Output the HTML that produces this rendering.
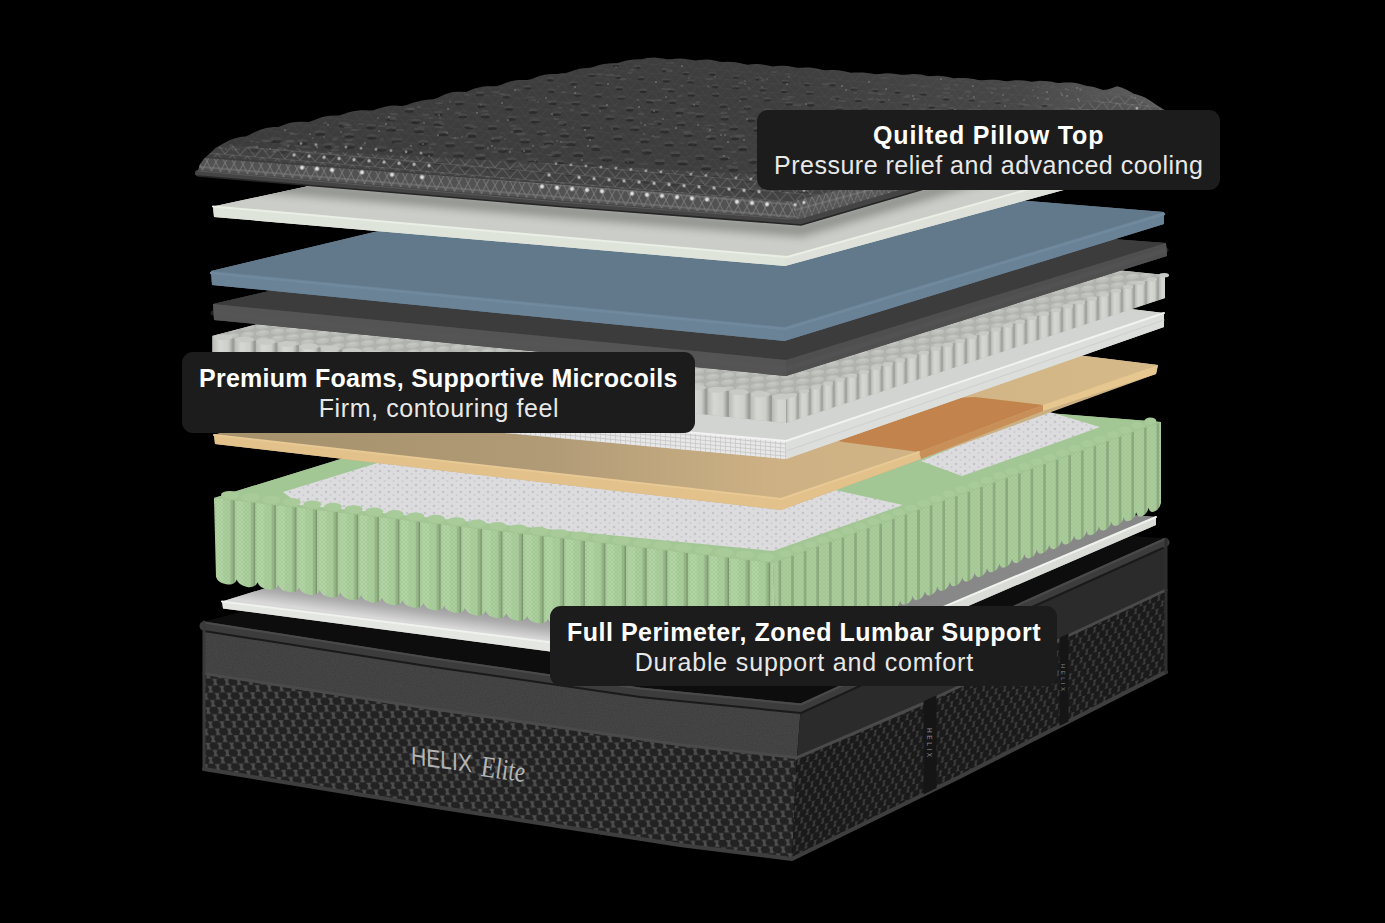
<!DOCTYPE html>
<html><head><meta charset="utf-8"><style>
html,body{margin:0;padding:0;background:#000;}
body{width:1385px;height:923px;overflow:hidden;position:relative;font-family:"Liberation Sans",sans-serif;}
svg{position:absolute;left:0;top:0;}
.lab{position:absolute;background:#1c1c1c;border-radius:11px;}
.t{position:absolute;color:#fff;font-size:25px;line-height:30px;white-space:nowrap;}
.b{font-weight:bold;}
.s{font-weight:normal;color:#e8e8e8;}
</style></head><body>
<svg width="1385" height="923" viewBox="0 0 1385 923">
<defs><pattern id="wovL" patternUnits="userSpaceOnUse" width="12" height="14" patternTransform="skewY(9) rotate(-10)"><rect width="12" height="14" fill="#222"/><path d="M0.70 0.30h5.20l-1.30 2.43v1.54l1.30 2.43h-5.20l1.30 -2.43v-1.54z" fill="#4e4e4e"/><path d="M6.70 7.30h5.20l-1.30 2.43v1.54l1.30 2.43h-5.20l1.30 -2.43v-1.54z" fill="#4e4e4e"/><path d="M-5.30 7.30h5.20l-1.30 2.43v1.54l1.30 2.43h-5.20l1.30 -2.43v-1.54z" fill="#4e4e4e"/><path d="M0.70 14.30h5.20l-1.30 2.43v1.54l1.30 2.43h-5.20l1.30 -2.43v-1.54z" fill="#4e4e4e"/></pattern><pattern id="wovR" patternUnits="userSpaceOnUse" width="9" height="13" patternTransform="skewY(-25) rotate(10)"><rect width="9" height="13" fill="#1a1a1a"/><path d="M0.70 0.50h3.60l-0.90 2.13v1.34l0.90 2.13h-3.60l0.90 -2.13v-1.34z" fill="#3c3c3c"/><path d="M5.20 7.00h3.60l-0.90 2.13v1.34l0.90 2.13h-3.60l0.90 -2.13v-1.34z" fill="#3c3c3c"/><path d="M-3.80 7.00h3.60l-0.90 2.13v1.34l0.90 2.13h-3.60l0.90 -2.13v-1.34z" fill="#3c3c3c"/><path d="M0.70 13.50h3.60l-0.90 2.13v1.34l0.90 2.13h-3.60l0.90 -2.13v-1.34z" fill="#3c3c3c"/></pattern><filter id="noise" x="0" y="0" width="100%" height="100%"><feTurbulence type="fractalNoise" baseFrequency="0.9" numOctaves="2" seed="3"/><feColorMatrix values="0 0 0 0 0.3  0 0 0 0 0.3  0 0 0 0 0.3  0 0 0 0.35 0"/><feComposite in2="SourceGraphic" operator="in"/></filter><linearGradient id="w9top" gradientUnits="userSpaceOnUse" x1="604" y1="617.6" x2="600" y2="647.6"><stop offset="0" stop-color="#888"/><stop offset="0.6" stop-color="#adadad"/><stop offset="1" stop-color="#d8d8d8"/></linearGradient><pattern id="spk" patternUnits="userSpaceOnUse" width="9" height="7">
<rect width="9" height="7" fill="#dcdcdf"/><circle cx="2" cy="2" r="1.3" fill="#c4c4c8"/><circle cx="6.5" cy="5" r="1.0" fill="#cbcbcf"/></pattern><pattern id="coilL" patternUnits="userSpaceOnUse" width="20.6" height="120" x="214" patternTransform="skewY(6)">
<rect width="20.6" height="120" fill="#abcf9c"/><rect x="2" width="7" height="120" fill="#b6d8a8" opacity="0.7"/><rect x="16.4" width="4.2" height="120" fill="#97b789"/><rect x="19.2" width="1.4" height="120" fill="#7a966d"/></pattern><pattern id="coilR" patternUnits="userSpaceOnUse" width="12.6" height="120" patternTransform="skewY(-19)">
<rect width="12.6" height="120" fill="#aacd9b"/><rect x="10" width="2.6" height="120" fill="#8cab7f"/></pattern><pattern id="xh" patternUnits="userSpaceOnUse" width="4" height="4"><path d="M0 4L4 0M0 0L4 4" stroke="#7f9b73" stroke-width="0.5" opacity="0.5"/></pattern><linearGradient id="tantop" gradientUnits="userSpaceOnUse" x1="300" y1="430" x2="1150" y2="430"><stop offset="0" stop-color="#a8936f"/><stop offset="0.3" stop-color="#b19b77"/><stop offset="0.55" stop-color="#cdb184"/><stop offset="1" stop-color="#d6b988"/></linearGradient><pattern id="gridL" patternUnits="userSpaceOnUse" width="5" height="4" patternTransform="skewY(5.5)">
<rect width="5" height="4" fill="#e8e8e8"/><path d="M0 0.5H5M0.5 0V4" stroke="#c6c6c6" stroke-width="0.8"/></pattern><pattern id="mtop" patternUnits="userSpaceOnUse" width="15" height="7" patternTransform="skewY(-6)">
<rect width="15" height="7" fill="#b0b2ad"/><ellipse cx="7.5" cy="3.5" rx="6.8" ry="3" fill="#bdbfba"/><ellipse cx="7.5" cy="2.6" rx="4" ry="1.1" fill="#c6c8c3"/></pattern><linearGradient id="cylg" x1="0" y1="0" x2="1" y2="0"><stop offset="0" stop-color="#b9bbb6"/><stop offset="0.35" stop-color="#d6d8d3"/><stop offset="0.8" stop-color="#cdcfca"/><stop offset="1" stop-color="#a9aba6"/></linearGradient><pattern id="mcL" patternUnits="userSpaceOnUse" width="21.5" height="40" x="212" patternTransform="skewY(5)">
<rect width="21.5" height="40" fill="#9a9c97"/><rect x="1" width="19" height="40" fill="url(#cylg)"/></pattern><pattern id="mcR" patternUnits="userSpaceOnUse" width="12" height="40" x="786" patternTransform="skewY(-18)">
<rect width="12" height="40" fill="#a3a5a0"/><rect x="1" width="10" height="40" fill="url(#cylg)"/></pattern><linearGradient id="dgf" gradientUnits="userSpaceOnUse" x1="0" y1="300" x2="0" y2="380"><stop offset="0" stop-color="#585858"/><stop offset="1" stop-color="#4e4e4e"/></linearGradient><filter id="blur4" x="-10%" y="-50%" width="120%" height="200%"><feGaussianBlur stdDeviation="4"/></filter><clipPath id="w2clip"><polygon points="213.0,206.5 654.0,112.0 1158.0,153.0 787.0,257.0"/></clipPath><linearGradient id="ptop" gradientUnits="userSpaceOnUse" x1="200" y1="0" x2="1166" y2="0"><stop offset="0" stop-color="#3b3b3b"/><stop offset="0.6" stop-color="#3d3d3d"/><stop offset="0.85" stop-color="#474747"/><stop offset="1" stop-color="#626262"/></linearGradient><clipPath id="ptclip"><polygon points="197.7,172.0 199.5,165.0 203.8,159.0 206.7,156.2 209.7,153.5 212.6,150.8 215.5,147.7 219.8,145.6 224.2,143.0 228.5,140.7 232.8,139.0 237.2,137.7 241.5,136.8 245.6,136.4 249.6,134.7 253.7,132.6 257.8,130.7 261.8,129.2 265.9,128.1 269.9,127.4 274.0,127.0 278.3,126.9 282.7,125.2 287.0,123.7 291.3,122.6 295.7,122.0 300.0,121.7 304.3,121.8 308.7,122.1 313.0,120.6 317.4,118.8 321.7,117.3 326.1,116.3 330.5,115.7 334.9,115.5 339.2,115.6 343.6,114.1 347.9,112.6 352.1,111.5 356.4,110.7 360.7,110.3 364.9,110.3 369.2,110.6 373.5,110.3 377.7,108.7 382.0,107.4 386.0,106.4 390.0,105.8 394.0,105.6 398.0,105.7 402.0,106.0 406.0,105.2 410.0,103.7 414.0,102.4 418.0,101.5 421.9,100.5 425.8,99.9 429.7,99.5 433.6,99.3 437.4,97.9 441.3,96.0 445.2,94.3 449.1,93.0 453.0,92.0 457.3,91.7 461.7,91.8 466.0,92.0 470.3,90.2 474.7,88.6 479.0,87.4 483.3,86.6 487.7,86.2 492.0,86.2 496.5,86.3 501.0,84.8 505.5,83.0 510.0,81.5 514.5,80.5 519.0,80.0 523.2,79.9 527.5,80.1 531.8,78.9 536.0,77.2 540.2,75.8 544.5,74.8 548.8,74.2 553.0,73.9 557.2,74.0 561.5,73.2 565.8,73.0 570.0,71.7 574.3,70.2 578.7,69.0 583.0,68.3 587.3,67.9 591.7,67.6 596.0,66.0 600.2,64.8 604.4,64.0 608.6,63.5 612.9,63.3 617.1,63.3 621.3,62.0 625.5,60.8 629.7,60.0 634.0,59.5 638.2,59.3 642.4,59.3 646.6,58.1 650.7,57.7 654.7,57.6 658.8,57.9 662.9,58.4 666.9,59.2 671.0,59.3 675.0,58.8 679.1,58.6 683.2,58.7 687.2,59.2 691.3,59.8 695.4,60.5 699.4,60.0 703.5,59.7 707.5,59.6 711.6,59.9 715.6,60.8 719.6,61.8 723.6,61.9 727.6,61.8 731.7,61.9 735.7,62.3 739.7,63.0 743.7,64.0 747.7,64.7 751.8,64.3 756.0,64.1 760.1,64.3 764.2,64.7 768.3,65.5 772.5,66.4 776.6,66.0 780.7,65.8 784.9,65.8 789.0,66.2 793.1,66.9 797.2,67.8 801.4,67.8 805.5,67.4 809.6,67.5 813.7,67.9 817.8,68.7 821.9,69.7 826.0,70.2 830.1,70.0 834.2,69.9 838.4,70.3 842.5,70.9 846.6,71.8 850.7,72.8 854.8,72.5 858.9,72.4 863.0,72.6 867.1,72.9 871.3,73.5 875.4,74.2 879.6,73.9 883.7,73.5 887.9,73.3 892.0,73.5 896.1,74.0 900.3,74.8 904.4,74.8 908.6,74.4 912.7,74.1 916.9,74.2 921.0,74.6 925.1,75.5 929.1,76.2 933.2,75.9 937.2,75.8 941.3,76.0 945.4,76.5 949.4,77.3 953.5,78.3 957.6,78.1 961.6,77.9 965.7,78.0 969.8,78.4 973.8,79.1 977.9,80.0 981.9,80.3 986.0,80.1 990.2,79.8 994.3,79.8 998.5,80.1 1002.6,80.8 1006.8,81.2 1010.9,80.7 1015.1,80.3 1019.2,80.2 1023.4,80.5 1027.5,81.1 1031.7,81.8 1035.8,81.3 1040.0,80.8 1044.0,80.9 1048.0,81.2 1052.0,81.8 1056.0,82.7 1060.0,82.9 1064.0,82.6 1068.0,82.4 1072.0,82.6 1076.0,83.1 1080.0,83.9 1084.6,85.6 1089.2,86.2 1093.8,87.1 1098.4,88.4 1103.0,90.1 1107.7,89.6 1112.3,88.1 1117.0,86.3 1121.3,87.6 1125.7,89.3 1130.0,91.4 1133.8,93.7 1137.5,94.8 1141.2,96.0 1145.0,97.6 1150.0,100.4 1155.0,104.0 1166.0,111.0 1166.0,118.0 801.0,225.0 197.7,176.0"/></clipPath><radialGradient id="glow"><stop offset="0" stop-color="#fff"/><stop offset="0.4" stop-color="#e8e8e8"/><stop offset="1" stop-color="#888" stop-opacity="0"/></radialGradient><pattern id="tri" patternUnits="userSpaceOnUse" width="15" height="9" patternTransform="skewY(4.8)">
<rect width="15" height="9" fill="#4a4a4a" opacity="0.5"/><path d="M0 9L7.5 0L15 9M0 0H15" stroke="#8a8a8a" stroke-width="0.8" fill="none" opacity="0.8"/></pattern><pattern id="mesh" patternUnits="userSpaceOnUse" width="9" height="18" patternTransform="skewY(4.8)">
<rect width="9" height="18" fill="#525252"/><path d="M0 18L9 0M0 0L9 18M0 6H9M0 12H9" stroke="#8a8a8a" stroke-width="0.7" fill="none"/></pattern><pattern id="meshR" patternUnits="userSpaceOnUse" width="7" height="18" patternTransform="skewY(-15)">
<rect width="7" height="18" fill="#565656"/><path d="M0 18L7 0M0 0L7 18M0 9H7" stroke="#8a8a8a" stroke-width="0.7" fill="none"/></pattern></defs>
<rect width="1385" height="923" fill="#000"/>
<polygon points="204.0,621.4 674.0,500.0 1165.0,538.5 1030.0,599.0 801.0,704.0 700.0,694.0 640.0,688.0 430.0,657.4 204.0,622.0" fill="#0d0d0d" />
<polygon points="204.0,673.4 430.0,708.5 680.0,744.7 797.0,757.7 792.0,859.0 680.0,845.0 430.0,806.0 204.0,769.0" fill="url(#wovL)" />
<polygon points="797.0,757.7 922.0,704.0 1059.0,640.0 1166.0,590.0 1166.0,672.0 960.0,776.7 792.0,859.0" fill="url(#wovR)" />
<polygon points="204.0,622.0 430.0,657.4 640.0,688.0 700.0,694.0 801.0,704.0 797.0,757.7 680.0,744.7 430.0,708.5 204.0,673.4" fill="#3b3b3b" />
<polygon points="801.0,704.0 1030.0,599.0 1165.0,538.5 1166.0,590.0 1059.0,640.0 922.0,704.0 797.0,757.7" fill="#2b2b2b" />
<polygon points="204.0,622.0 430.0,657.4 640.0,688.0 700.0,694.0 801.0,704.0 797.0,757.7 680.0,744.7 430.0,708.5 204.0,673.4" fill="#fff" filter="url(#noise)" opacity="0.5"/>
<polyline points="204.0,626.0 430.0,661.4 640.0,692.0 700.0,698.0 801.0,708.0 1030.0,603.0 1165.0,542.5" fill="none" stroke="#3c3c3c" stroke-width="9" stroke-linejoin="round" stroke-linecap="round" />
<polyline points="204.0,622.5 430.0,657.9 640.0,688.5 700.0,694.5 801.0,704.5 1030.0,599.5 1165.0,539.0" fill="none" stroke="#4a4a4a" stroke-width="2" stroke-linejoin="round" stroke-linecap="round" />
<polyline points="204.0,631.0 430.0,666.4 640.0,697.0 700.0,703.0 801.0,713.0 1030.0,608.0 1163.0,548.0" fill="none" stroke="#1a1a1a" stroke-width="2" stroke-linejoin="round" stroke-linecap="round" />
<polyline points="204.0,673.4 430.0,708.5 680.0,744.7 797.0,757.7 922.0,704.0 1059.0,640.0 1166.0,590.0" fill="none" stroke="#4a4a4a" stroke-width="3" stroke-linejoin="round" stroke-linecap="round" />
<polyline points="204.0,769.0 430.0,806.0 680.0,845.0 792.0,859.0 960.0,776.7 1166.0,672.0" fill="none" stroke="#3e3e3e" stroke-width="4" stroke-linejoin="round" stroke-linecap="round" />
<polyline points="204.0,622.0 204.0,769.0" fill="none" stroke="#3a3a3a" stroke-width="3" stroke-linejoin="round" stroke-linecap="round" />
<polyline points="1166.0,539.0 1166.0,672.0" fill="none" stroke="#2e2e2e" stroke-width="3" stroke-linejoin="round" stroke-linecap="round" />
<polygon points="923.5,701.3 936.5,695.3 936.5,788.1 923.5,794.6" fill="#151515" />
<polygon points="1059.5,637.7 1068.5,633.6 1068.5,721.6 1059.5,726.1" fill="#151515" />
<text x="0" y="0" font-family="Liberation Sans" font-size="6.5" fill="#8a8a8a" letter-spacing="2.6" transform="translate(927 728) rotate(90)">HELIX</text>
<text x="0" y="0" font-family="Liberation Sans" font-size="6" fill="#8a8a8a" letter-spacing="2.4" transform="translate(1061 664) rotate(90)">HELIX</text>
<text x="0" y="0" font-family="Liberation Sans" font-size="25" fill="#b4b4b4" textLength="61" lengthAdjust="spacingAndGlyphs" transform="translate(411 764) skewY(8)">HELIX</text>
<text x="0" y="0" font-family="Liberation Serif" font-style="italic" font-size="30" fill="#b4b4b4" textLength="44" lengthAdjust="spacingAndGlyphs" transform="translate(481 776) skewY(8)">Elite</text>
<polygon points="222.0,601.5 626.0,478.0 1156.0,517.0 1156.0,525.0 790.0,683.0 223.0,608.5" fill="#b0b0b0" />
<polygon points="222.0,601.5 626.0,478.0 1156.0,517.0 790.0,672.0" fill="url(#w9top)" />
<polygon points="222.0,601.5 790.0,672.0 790.0,683.0 223.0,608.5" fill="#e3e6e1" />
<polygon points="790.0,672.0 1156.0,517.0 1156.0,525.0 790.0,683.0" fill="#dadcd8" />
<polyline points="222.0,601.5 790.0,672.0 1156.0,517.0" fill="none" stroke="#f0f2ee" stroke-width="2" stroke-linejoin="round" stroke-linecap="round" />
<polygon points="214.0,498.0 603.0,378.0 1161.0,422.0 1161.0,428.0 773.0,569.0 214.0,504.0" fill="#98b889" />
<polygon points="214.0,498.0 603.0,378.0 1161.0,422.0 773.0,563.0" fill="#a3c794" />
<polygon points="283.0,492.0 420.0,450.0 700.0,430.0 835.0,490.0 903.0,505.0 773.0,551.0 300.0,505.0" fill="url(#spk)" />
<polygon points="921.0,461.0 962.0,476.0 1075.0,436.0 1100.0,427.0 1043.0,410.0" fill="url(#spk)" />
<g><ellipse cx="230.0" cy="494.9" rx="9" ry="4" fill="#a9cb9a"/><ellipse cx="250.6" cy="497.3" rx="9" ry="4" fill="#a9cb9a"/><ellipse cx="271.2" cy="499.7" rx="9" ry="4" fill="#a9cb9a"/><ellipse cx="291.8" cy="502.0" rx="9" ry="4" fill="#a9cb9a"/><ellipse cx="312.4" cy="504.4" rx="9" ry="4" fill="#a9cb9a"/><ellipse cx="333.0" cy="506.8" rx="9" ry="4" fill="#a9cb9a"/><ellipse cx="353.6" cy="509.2" rx="9" ry="4" fill="#a9cb9a"/><ellipse cx="374.2" cy="511.6" rx="9" ry="4" fill="#a9cb9a"/><ellipse cx="394.8" cy="514.0" rx="9" ry="4" fill="#a9cb9a"/><ellipse cx="415.4" cy="516.4" rx="9" ry="4" fill="#a9cb9a"/><ellipse cx="436.0" cy="518.8" rx="9" ry="4" fill="#a9cb9a"/><ellipse cx="456.6" cy="521.2" rx="9" ry="4" fill="#a9cb9a"/><ellipse cx="477.2" cy="523.6" rx="9" ry="4" fill="#a9cb9a"/><ellipse cx="497.8" cy="526.0" rx="9" ry="4" fill="#a9cb9a"/><ellipse cx="518.4" cy="528.4" rx="9" ry="4" fill="#a9cb9a"/><ellipse cx="539.0" cy="530.8" rx="9" ry="4" fill="#a9cb9a"/><ellipse cx="559.6" cy="533.2" rx="9" ry="4" fill="#a9cb9a"/><ellipse cx="580.2" cy="535.6" rx="9" ry="4" fill="#a9cb9a"/><ellipse cx="600.8" cy="538.0" rx="9" ry="4" fill="#a9cb9a"/><ellipse cx="621.4" cy="540.4" rx="9" ry="4" fill="#a9cb9a"/><ellipse cx="642.0" cy="542.8" rx="9" ry="4" fill="#a9cb9a"/><ellipse cx="662.6" cy="545.2" rx="9" ry="4" fill="#a9cb9a"/><ellipse cx="683.2" cy="547.6" rx="9" ry="4" fill="#a9cb9a"/><ellipse cx="703.8" cy="550.0" rx="9" ry="4" fill="#a9cb9a"/><ellipse cx="724.4" cy="552.3" rx="9" ry="4" fill="#a9cb9a"/><ellipse cx="745.0" cy="554.7" rx="9" ry="4" fill="#a9cb9a"/><ellipse cx="765.6" cy="557.1" rx="9" ry="4" fill="#a9cb9a"/><ellipse cx="785.0" cy="553.6" rx="6" ry="3.5" fill="#a9cb9a"/><ellipse cx="797.6" cy="549.1" rx="6" ry="3.5" fill="#a9cb9a"/><ellipse cx="810.2" cy="544.5" rx="6" ry="3.5" fill="#a9cb9a"/><ellipse cx="822.8" cy="539.9" rx="6" ry="3.5" fill="#a9cb9a"/><ellipse cx="835.4" cy="535.3" rx="6" ry="3.5" fill="#a9cb9a"/><ellipse cx="848.0" cy="530.7" rx="6" ry="3.5" fill="#a9cb9a"/><ellipse cx="860.6" cy="526.2" rx="6" ry="3.5" fill="#a9cb9a"/><ellipse cx="873.2" cy="521.6" rx="6" ry="3.5" fill="#a9cb9a"/><ellipse cx="885.8" cy="517.0" rx="6" ry="3.5" fill="#a9cb9a"/><ellipse cx="898.4" cy="512.4" rx="6" ry="3.5" fill="#a9cb9a"/><ellipse cx="911.0" cy="507.9" rx="6" ry="3.5" fill="#a9cb9a"/><ellipse cx="923.6" cy="503.3" rx="6" ry="3.5" fill="#a9cb9a"/><ellipse cx="936.2" cy="498.7" rx="6" ry="3.5" fill="#a9cb9a"/><ellipse cx="948.8" cy="494.1" rx="6" ry="3.5" fill="#a9cb9a"/><ellipse cx="961.4" cy="489.5" rx="6" ry="3.5" fill="#a9cb9a"/><ellipse cx="974.0" cy="485.0" rx="6" ry="3.5" fill="#a9cb9a"/><ellipse cx="986.6" cy="480.4" rx="6" ry="3.5" fill="#a9cb9a"/><ellipse cx="999.2" cy="475.8" rx="6" ry="3.5" fill="#a9cb9a"/><ellipse cx="1011.8" cy="471.2" rx="6" ry="3.5" fill="#a9cb9a"/><ellipse cx="1024.4" cy="466.6" rx="6" ry="3.5" fill="#a9cb9a"/><ellipse cx="1037.0" cy="462.1" rx="6" ry="3.5" fill="#a9cb9a"/><ellipse cx="1049.6" cy="457.5" rx="6" ry="3.5" fill="#a9cb9a"/><ellipse cx="1062.2" cy="452.9" rx="6" ry="3.5" fill="#a9cb9a"/><ellipse cx="1074.8" cy="448.3" rx="6" ry="3.5" fill="#a9cb9a"/><ellipse cx="1087.4" cy="443.7" rx="6" ry="3.5" fill="#a9cb9a"/><ellipse cx="1100.0" cy="439.2" rx="6" ry="3.5" fill="#a9cb9a"/><ellipse cx="1112.6" cy="434.6" rx="6" ry="3.5" fill="#a9cb9a"/><ellipse cx="1125.2" cy="430.0" rx="6" ry="3.5" fill="#a9cb9a"/><ellipse cx="1137.8" cy="425.4" rx="6" ry="3.5" fill="#a9cb9a"/><ellipse cx="1150.4" cy="420.9" rx="6" ry="3.5" fill="#a9cb9a"/></g>
<path d="M214.0 498.0 L773.0 563.0 L776.0 652.0 L776.0 647.0 Q773.9 653.0 765.6 651.7 Q757.3 650.4 755.3 644.4 L755.3 644.4 Q753.2 650.4 744.9 649.1 Q736.6 647.8 734.5 641.8 L734.5 641.8 Q732.4 647.8 724.1 646.5 Q715.9 645.2 713.8 639.2 L713.8 639.2 Q711.7 645.2 703.4 643.9 Q695.1 642.6 693.0 636.6 L693.0 636.6 Q691.0 642.6 682.7 641.3 Q674.4 640.0 672.3 634.0 L672.3 634.0 Q670.2 640.0 661.9 638.7 Q653.6 637.4 651.6 631.4 L651.6 631.4 Q649.5 637.4 641.2 636.1 Q632.9 634.9 630.8 628.9 L630.8 628.9 Q628.7 634.9 620.4 633.6 Q612.1 632.3 610.1 626.3 L610.1 626.3 Q608.0 632.3 599.7 631.0 Q591.4 629.7 589.3 623.7 L589.3 623.7 Q587.3 629.7 579.0 628.4 Q570.7 627.1 568.6 621.1 L568.6 621.1 Q566.5 627.1 558.2 625.8 Q549.9 624.5 547.9 618.5 L547.9 618.5 Q545.8 624.5 537.5 623.2 Q529.2 621.9 527.1 615.9 L527.1 615.9 Q525.0 621.9 516.7 620.6 Q508.4 619.3 506.4 613.3 L506.4 613.3 Q504.3 619.3 496.0 618.0 Q487.7 616.7 485.6 610.7 L485.6 610.7 Q483.6 616.7 475.3 615.4 Q467.0 614.1 464.9 608.1 L464.9 608.1 Q462.8 614.1 454.5 612.8 Q446.2 611.5 444.1 605.5 L444.1 605.5 Q442.1 611.5 433.8 610.2 Q425.5 608.9 423.4 602.9 L423.4 602.9 Q421.3 608.9 413.0 607.6 Q404.7 606.3 402.7 600.3 L402.7 600.3 Q400.6 606.3 392.3 605.0 Q384.0 603.7 381.9 597.7 L381.9 597.7 Q379.9 603.7 371.6 602.4 Q363.3 601.1 361.2 595.1 L361.2 595.1 Q359.1 601.1 350.8 599.9 Q342.5 598.6 340.4 592.6 L340.4 592.6 Q338.4 598.6 330.1 597.3 Q321.8 596.0 319.7 590.0 L319.7 590.0 Q317.6 596.0 309.3 594.7 Q301.0 593.4 299.0 587.4 L299.0 587.4 Q296.9 593.4 288.6 592.1 Q280.3 590.8 278.2 584.8 L278.2 584.8 Q276.1 590.8 267.9 589.5 Q259.6 588.2 257.5 582.2 L257.5 582.2 Q255.4 588.2 247.1 586.9 Q238.8 585.6 236.7 579.6 L236.7 579.6 Q234.7 585.6 226.4 584.3 Q218.1 583.0 216.0 577.0 Z" fill="url(#coilL)"/>
<path d="M214.0 498.0 L773.0 563.0 L776.0 652.0 L776.0 647.0 Q773.9 653.0 765.6 651.7 Q757.3 650.4 755.3 644.4 L755.3 644.4 Q753.2 650.4 744.9 649.1 Q736.6 647.8 734.5 641.8 L734.5 641.8 Q732.4 647.8 724.1 646.5 Q715.9 645.2 713.8 639.2 L713.8 639.2 Q711.7 645.2 703.4 643.9 Q695.1 642.6 693.0 636.6 L693.0 636.6 Q691.0 642.6 682.7 641.3 Q674.4 640.0 672.3 634.0 L672.3 634.0 Q670.2 640.0 661.9 638.7 Q653.6 637.4 651.6 631.4 L651.6 631.4 Q649.5 637.4 641.2 636.1 Q632.9 634.9 630.8 628.9 L630.8 628.9 Q628.7 634.9 620.4 633.6 Q612.1 632.3 610.1 626.3 L610.1 626.3 Q608.0 632.3 599.7 631.0 Q591.4 629.7 589.3 623.7 L589.3 623.7 Q587.3 629.7 579.0 628.4 Q570.7 627.1 568.6 621.1 L568.6 621.1 Q566.5 627.1 558.2 625.8 Q549.9 624.5 547.9 618.5 L547.9 618.5 Q545.8 624.5 537.5 623.2 Q529.2 621.9 527.1 615.9 L527.1 615.9 Q525.0 621.9 516.7 620.6 Q508.4 619.3 506.4 613.3 L506.4 613.3 Q504.3 619.3 496.0 618.0 Q487.7 616.7 485.6 610.7 L485.6 610.7 Q483.6 616.7 475.3 615.4 Q467.0 614.1 464.9 608.1 L464.9 608.1 Q462.8 614.1 454.5 612.8 Q446.2 611.5 444.1 605.5 L444.1 605.5 Q442.1 611.5 433.8 610.2 Q425.5 608.9 423.4 602.9 L423.4 602.9 Q421.3 608.9 413.0 607.6 Q404.7 606.3 402.7 600.3 L402.7 600.3 Q400.6 606.3 392.3 605.0 Q384.0 603.7 381.9 597.7 L381.9 597.7 Q379.9 603.7 371.6 602.4 Q363.3 601.1 361.2 595.1 L361.2 595.1 Q359.1 601.1 350.8 599.9 Q342.5 598.6 340.4 592.6 L340.4 592.6 Q338.4 598.6 330.1 597.3 Q321.8 596.0 319.7 590.0 L319.7 590.0 Q317.6 596.0 309.3 594.7 Q301.0 593.4 299.0 587.4 L299.0 587.4 Q296.9 593.4 288.6 592.1 Q280.3 590.8 278.2 584.8 L278.2 584.8 Q276.1 590.8 267.9 589.5 Q259.6 588.2 257.5 582.2 L257.5 582.2 Q255.4 588.2 247.1 586.9 Q238.8 585.6 236.7 579.6 L236.7 579.6 Q234.7 585.6 226.4 584.3 Q218.1 583.0 216.0 577.0 Z" fill="url(#xh)" opacity="0.6"/>
<path d="M773.0 563.0 L1161.0 422.0 L1161.0 508.0 L1161.0 503.0 Q1159.8 509.0 1154.8 511.3 Q1149.8 513.6 1148.6 507.6 L1148.6 507.6 Q1147.3 513.6 1142.4 516.0 Q1137.4 518.3 1136.2 512.3 L1136.2 512.3 Q1134.9 518.3 1130.0 520.6 Q1125.0 522.9 1123.7 516.9 L1123.7 516.9 Q1122.5 522.9 1117.5 525.3 Q1112.6 527.6 1111.3 521.6 L1111.3 521.6 Q1110.1 527.6 1105.1 529.9 Q1100.1 532.2 1098.9 526.2 L1098.9 526.2 Q1097.7 532.2 1092.7 534.5 Q1087.7 536.9 1086.5 530.9 L1086.5 530.9 Q1085.2 536.9 1080.3 539.2 Q1075.3 541.5 1074.1 535.5 L1074.1 535.5 Q1072.8 541.5 1067.9 543.8 Q1062.9 546.2 1061.6 540.2 L1061.6 540.2 Q1060.4 546.2 1055.4 548.5 Q1050.5 550.8 1049.2 544.8 L1049.2 544.8 Q1048.0 550.8 1043.0 553.1 Q1038.0 555.5 1036.8 549.5 L1036.8 549.5 Q1035.6 555.5 1030.6 557.8 Q1025.6 560.1 1024.4 554.1 L1024.4 554.1 Q1023.1 560.1 1018.2 562.4 Q1013.2 564.7 1012.0 558.7 L1012.0 558.7 Q1010.7 564.7 1005.8 567.1 Q1000.8 569.4 999.5 563.4 L999.5 563.4 Q998.3 569.4 993.3 571.7 Q988.4 574.0 987.1 568.0 L987.1 568.0 Q985.9 574.0 980.9 576.4 Q976.0 578.7 974.7 572.7 L974.7 572.7 Q973.5 578.7 968.5 581.0 Q963.5 583.3 962.3 577.3 L962.3 577.3 Q961.0 583.3 956.1 585.6 Q951.1 588.0 949.9 582.0 L949.9 582.0 Q948.6 588.0 943.7 590.3 Q938.7 592.6 937.5 586.6 L937.5 586.6 Q936.2 592.6 931.2 594.9 Q926.3 597.3 925.0 591.3 L925.0 591.3 Q923.8 597.3 918.8 599.6 Q913.9 601.9 912.6 595.9 L912.6 595.9 Q911.4 601.9 906.4 604.2 Q901.4 606.5 900.2 600.5 L900.2 600.5 Q899.0 606.5 894.0 608.9 Q889.0 611.2 887.8 605.2 L887.8 605.2 Q886.5 611.2 881.6 613.5 Q876.6 615.8 875.4 609.8 L875.4 609.8 Q874.1 615.8 869.1 618.2 Q864.2 620.5 862.9 614.5 L862.9 614.5 Q861.7 620.5 856.7 622.8 Q851.8 625.1 850.5 619.1 L850.5 619.1 Q849.3 625.1 844.3 627.5 Q839.3 629.8 838.1 623.8 L838.1 623.8 Q836.9 629.8 831.9 632.1 Q826.9 634.4 825.7 628.4 L825.7 628.4 Q824.4 634.4 819.5 636.7 Q814.5 639.1 813.3 633.1 L813.3 633.1 Q812.0 639.1 807.0 641.4 Q802.1 643.7 800.8 637.7 L800.8 637.7 Q799.6 643.7 794.6 646.0 Q789.7 648.4 788.4 642.4 L788.4 642.4 Q787.2 648.4 782.2 650.7 Q777.2 653.0 776.0 647.0 Z" fill="url(#coilR)"/>
<path d="M773.0 563.0 L1161.0 422.0 L1161.0 508.0 L1161.0 503.0 Q1159.8 509.0 1154.8 511.3 Q1149.8 513.6 1148.6 507.6 L1148.6 507.6 Q1147.3 513.6 1142.4 516.0 Q1137.4 518.3 1136.2 512.3 L1136.2 512.3 Q1134.9 518.3 1130.0 520.6 Q1125.0 522.9 1123.7 516.9 L1123.7 516.9 Q1122.5 522.9 1117.5 525.3 Q1112.6 527.6 1111.3 521.6 L1111.3 521.6 Q1110.1 527.6 1105.1 529.9 Q1100.1 532.2 1098.9 526.2 L1098.9 526.2 Q1097.7 532.2 1092.7 534.5 Q1087.7 536.9 1086.5 530.9 L1086.5 530.9 Q1085.2 536.9 1080.3 539.2 Q1075.3 541.5 1074.1 535.5 L1074.1 535.5 Q1072.8 541.5 1067.9 543.8 Q1062.9 546.2 1061.6 540.2 L1061.6 540.2 Q1060.4 546.2 1055.4 548.5 Q1050.5 550.8 1049.2 544.8 L1049.2 544.8 Q1048.0 550.8 1043.0 553.1 Q1038.0 555.5 1036.8 549.5 L1036.8 549.5 Q1035.6 555.5 1030.6 557.8 Q1025.6 560.1 1024.4 554.1 L1024.4 554.1 Q1023.1 560.1 1018.2 562.4 Q1013.2 564.7 1012.0 558.7 L1012.0 558.7 Q1010.7 564.7 1005.8 567.1 Q1000.8 569.4 999.5 563.4 L999.5 563.4 Q998.3 569.4 993.3 571.7 Q988.4 574.0 987.1 568.0 L987.1 568.0 Q985.9 574.0 980.9 576.4 Q976.0 578.7 974.7 572.7 L974.7 572.7 Q973.5 578.7 968.5 581.0 Q963.5 583.3 962.3 577.3 L962.3 577.3 Q961.0 583.3 956.1 585.6 Q951.1 588.0 949.9 582.0 L949.9 582.0 Q948.6 588.0 943.7 590.3 Q938.7 592.6 937.5 586.6 L937.5 586.6 Q936.2 592.6 931.2 594.9 Q926.3 597.3 925.0 591.3 L925.0 591.3 Q923.8 597.3 918.8 599.6 Q913.9 601.9 912.6 595.9 L912.6 595.9 Q911.4 601.9 906.4 604.2 Q901.4 606.5 900.2 600.5 L900.2 600.5 Q899.0 606.5 894.0 608.9 Q889.0 611.2 887.8 605.2 L887.8 605.2 Q886.5 611.2 881.6 613.5 Q876.6 615.8 875.4 609.8 L875.4 609.8 Q874.1 615.8 869.1 618.2 Q864.2 620.5 862.9 614.5 L862.9 614.5 Q861.7 620.5 856.7 622.8 Q851.8 625.1 850.5 619.1 L850.5 619.1 Q849.3 625.1 844.3 627.5 Q839.3 629.8 838.1 623.8 L838.1 623.8 Q836.9 629.8 831.9 632.1 Q826.9 634.4 825.7 628.4 L825.7 628.4 Q824.4 634.4 819.5 636.7 Q814.5 639.1 813.3 633.1 L813.3 633.1 Q812.0 639.1 807.0 641.4 Q802.1 643.7 800.8 637.7 L800.8 637.7 Q799.6 643.7 794.6 646.0 Q789.7 648.4 788.4 642.4 L788.4 642.4 Q787.2 648.4 782.2 650.7 Q777.2 653.0 776.0 647.0 Z" fill="url(#xh)" opacity="0.6"/>
<polygon points="214.0,435.0 650.0,302.0 1158.0,365.0 1156.0,374.0 781.0,510.0 215.0,444.0" fill="#cbb083" />
<polygon points="214.0,435.0 650.0,302.0 1158.0,365.0 781.0,499.0" fill="url(#tantop)" />
<polygon points="700.0,410.0 975.0,397.0 1043.0,405.0 919.0,452.0 843.0,442.0" fill="#c2844c" />
<polygon points="919.0,452.0 1043.0,405.0 1043.0,411.0 921.0,459.0" fill="#c98f58" />
<polygon points="214.0,435.0 781.0,499.0 781.0,510.0 215.0,444.0" fill="#e2c18b" />
<polygon points="781.0,499.0 919.0,452.0 921.0,459.0 781.0,510.0" fill="#e2c18b" />
<polygon points="1043.0,405.0 1158.0,365.0 1156.0,374.0 1043.0,411.0" fill="#e6c790" />
<polyline points="214.0,435.0 781.0,499.0 919.0,452.0" fill="none" stroke="#e8c994" stroke-width="2" stroke-linejoin="round" stroke-linecap="round" />
<polygon points="213.0,390.0 640.0,250.0 1164.0,313.0 1164.0,327.0 786.0,459.0 214.0,406.0" fill="#d6d8d5" />
<polygon points="213.0,390.0 640.0,250.0 1164.0,313.0 786.0,441.0" fill="#d2d4d1" />
<polygon points="213.0,390.0 786.0,441.0 786.0,459.0 214.0,406.0" fill="url(#gridL)" />
<polygon points="786.0,441.0 1164.0,313.0 1164.0,327.0 786.0,459.0" fill="#dcdedb" />
<polyline points="786.0,451.0 1164.0,320.0" fill="none" stroke="#d0d0d0" stroke-width="1.2" stroke-linejoin="round" stroke-linecap="round" />
<polyline points="213.0,390.0 786.0,441.0 1164.0,313.0" fill="none" stroke="#f2f2f2" stroke-width="2" stroke-linejoin="round" stroke-linecap="round" />
<polygon points="212.0,336.0 645.0,222.0 1165.0,275.0 1165.0,298.0 786.0,423.0 212.0,362.0" fill="#b9bbb6" />
<polygon points="212.0,336.0 645.0,222.0 1165.0,275.0 786.0,397.0" fill="url(#mtop)" />
<polygon points="212.0,336.0 786.0,397.0 786.0,423.0 212.0,362.0" fill="url(#mcL)" />
<polygon points="786.0,397.0 1165.0,275.0 1165.0,298.0 786.0,423.0" fill="url(#mcR)" />
<g><ellipse cx="223.0" cy="337.2" rx="9.5" ry="3" fill="#c8cac5"/><ellipse cx="244.5" cy="339.5" rx="9.5" ry="3" fill="#c8cac5"/><ellipse cx="266.0" cy="341.7" rx="9.5" ry="3" fill="#c8cac5"/><ellipse cx="287.5" cy="344.0" rx="9.5" ry="3" fill="#c8cac5"/><ellipse cx="309.0" cy="346.3" rx="9.5" ry="3" fill="#c8cac5"/><ellipse cx="330.5" cy="348.6" rx="9.5" ry="3" fill="#c8cac5"/><ellipse cx="352.0" cy="350.9" rx="9.5" ry="3" fill="#c8cac5"/><ellipse cx="373.5" cy="353.2" rx="9.5" ry="3" fill="#c8cac5"/><ellipse cx="395.0" cy="355.4" rx="9.5" ry="3" fill="#c8cac5"/><ellipse cx="416.5" cy="357.7" rx="9.5" ry="3" fill="#c8cac5"/><ellipse cx="438.0" cy="360.0" rx="9.5" ry="3" fill="#c8cac5"/><ellipse cx="459.5" cy="362.3" rx="9.5" ry="3" fill="#c8cac5"/><ellipse cx="481.0" cy="364.6" rx="9.5" ry="3" fill="#c8cac5"/><ellipse cx="502.5" cy="366.9" rx="9.5" ry="3" fill="#c8cac5"/><ellipse cx="524.0" cy="369.2" rx="9.5" ry="3" fill="#c8cac5"/><ellipse cx="545.5" cy="371.4" rx="9.5" ry="3" fill="#c8cac5"/><ellipse cx="567.0" cy="373.7" rx="9.5" ry="3" fill="#c8cac5"/><ellipse cx="588.5" cy="376.0" rx="9.5" ry="3" fill="#c8cac5"/><ellipse cx="610.0" cy="378.3" rx="9.5" ry="3" fill="#c8cac5"/><ellipse cx="631.5" cy="380.6" rx="9.5" ry="3" fill="#c8cac5"/><ellipse cx="653.0" cy="382.9" rx="9.5" ry="3" fill="#c8cac5"/><ellipse cx="674.5" cy="385.2" rx="9.5" ry="3" fill="#c8cac5"/><ellipse cx="696.0" cy="387.4" rx="9.5" ry="3" fill="#c8cac5"/><ellipse cx="717.5" cy="389.7" rx="9.5" ry="3" fill="#c8cac5"/><ellipse cx="739.0" cy="392.0" rx="9.5" ry="3" fill="#c8cac5"/><ellipse cx="760.5" cy="394.3" rx="9.5" ry="3" fill="#c8cac5"/><ellipse cx="782.0" cy="396.6" rx="9.5" ry="3" fill="#c8cac5"/><ellipse cx="792.0" cy="395.1" rx="5" ry="2.2" fill="#c8cac5"/><ellipse cx="804.0" cy="391.2" rx="5" ry="2.2" fill="#c8cac5"/><ellipse cx="816.0" cy="387.3" rx="5" ry="2.2" fill="#c8cac5"/><ellipse cx="828.0" cy="383.5" rx="5" ry="2.2" fill="#c8cac5"/><ellipse cx="840.0" cy="379.6" rx="5" ry="2.2" fill="#c8cac5"/><ellipse cx="852.0" cy="375.8" rx="5" ry="2.2" fill="#c8cac5"/><ellipse cx="864.0" cy="371.9" rx="5" ry="2.2" fill="#c8cac5"/><ellipse cx="876.0" cy="368.0" rx="5" ry="2.2" fill="#c8cac5"/><ellipse cx="888.0" cy="364.2" rx="5" ry="2.2" fill="#c8cac5"/><ellipse cx="900.0" cy="360.3" rx="5" ry="2.2" fill="#c8cac5"/><ellipse cx="912.0" cy="356.4" rx="5" ry="2.2" fill="#c8cac5"/><ellipse cx="924.0" cy="352.6" rx="5" ry="2.2" fill="#c8cac5"/><ellipse cx="936.0" cy="348.7" rx="5" ry="2.2" fill="#c8cac5"/><ellipse cx="948.0" cy="344.9" rx="5" ry="2.2" fill="#c8cac5"/><ellipse cx="960.0" cy="341.0" rx="5" ry="2.2" fill="#c8cac5"/><ellipse cx="972.0" cy="337.1" rx="5" ry="2.2" fill="#c8cac5"/><ellipse cx="984.0" cy="333.3" rx="5" ry="2.2" fill="#c8cac5"/><ellipse cx="996.0" cy="329.4" rx="5" ry="2.2" fill="#c8cac5"/><ellipse cx="1008.0" cy="325.5" rx="5" ry="2.2" fill="#c8cac5"/><ellipse cx="1020.0" cy="321.7" rx="5" ry="2.2" fill="#c8cac5"/><ellipse cx="1032.0" cy="317.8" rx="5" ry="2.2" fill="#c8cac5"/><ellipse cx="1044.0" cy="313.9" rx="5" ry="2.2" fill="#c8cac5"/><ellipse cx="1056.0" cy="310.1" rx="5" ry="2.2" fill="#c8cac5"/><ellipse cx="1068.0" cy="306.2" rx="5" ry="2.2" fill="#c8cac5"/><ellipse cx="1080.0" cy="302.4" rx="5" ry="2.2" fill="#c8cac5"/><ellipse cx="1092.0" cy="298.5" rx="5" ry="2.2" fill="#c8cac5"/><ellipse cx="1104.0" cy="294.6" rx="5" ry="2.2" fill="#c8cac5"/><ellipse cx="1116.0" cy="290.8" rx="5" ry="2.2" fill="#c8cac5"/><ellipse cx="1128.0" cy="286.9" rx="5" ry="2.2" fill="#c8cac5"/><ellipse cx="1140.0" cy="283.0" rx="5" ry="2.2" fill="#c8cac5"/><ellipse cx="1152.0" cy="279.2" rx="5" ry="2.2" fill="#c8cac5"/><ellipse cx="1164.0" cy="275.3" rx="5" ry="2.2" fill="#c8cac5"/></g>
<polygon points="213.0,304.0 647.0,204.0 1166.0,243.0 1167.0,256.0 786.0,376.0 214.0,320.0" fill="#474747" />
<polygon points="213.0,304.0 647.0,204.0 1166.0,243.0 786.0,360.0" fill="#3c3c3c" />
<polygon points="213.0,304.0 786.0,360.0 786.0,376.0 214.0,320.0" fill="#545454" />
<polygon points="786.0,360.0 1166.0,243.0 1167.0,256.0 786.0,376.0" fill="#4f4f4f" />
<polyline points="213.0,313.0 786.0,369.0 1166.0,250.0" fill="none" stroke="#5a5a5a" stroke-width="5" stroke-linejoin="round" stroke-linecap="round" opacity="0.35"/>
<polygon points="211.0,271.0 638.0,169.0 1164.0,212.0 1164.0,224.0 784.5,341.0 212.0,285.0" fill="#667e91" />
<polygon points="211.0,271.0 638.0,169.0 1164.0,212.0 784.5,327.0" fill="#62798b" />
<polygon points="211.0,271.0 784.5,327.0 784.5,341.0 212.0,285.0" fill="#6b8397" />
<polygon points="784.5,327.0 1164.0,212.0 1164.0,224.0 784.5,341.0" fill="#6a8296" />
<polyline points="211.0,273.0 784.5,329.0 1164.0,214.0" fill="none" stroke="#71899d" stroke-width="2.5" stroke-linejoin="round" stroke-linecap="round" />
<polygon points="213.0,206.5 654.0,112.0 1158.0,153.0 1159.0,164.0 785.0,266.0 214.0,217.0" fill="#d6dad3" />
<polygon points="213.0,206.5 654.0,112.0 1158.0,153.0 787.0,257.0" fill="#cbcec8" />
<g clip-path="url(#w2clip)"><polyline points="198,180 560,211 801,230 1166,122" fill="none" stroke="#000" stroke-width="14" opacity="0.28" filter="url(#blur4)"/></g>
<polygon points="213.0,206.5 787.0,257.0 785.0,266.0 214.0,217.0" fill="#dfe4db" />
<polygon points="787.0,257.0 1158.0,153.0 1159.0,164.0 785.0,266.0" fill="#dde1d9" />
<polyline points="213.0,206.5 787.0,257.0 1158.0,153.0" fill="none" stroke="#eaefe6" stroke-width="2" stroke-linejoin="round" stroke-linecap="round" />
<polygon points="197.7,172.0 199.5,165.0 203.8,159.0 206.7,156.2 209.7,153.5 212.6,150.8 215.5,147.7 219.8,145.6 224.2,143.0 228.5,140.7 232.8,139.0 237.2,137.7 241.5,136.8 245.6,136.4 249.6,134.7 253.7,132.6 257.8,130.7 261.8,129.2 265.9,128.1 269.9,127.4 274.0,127.0 278.3,126.9 282.7,125.2 287.0,123.7 291.3,122.6 295.7,122.0 300.0,121.7 304.3,121.8 308.7,122.1 313.0,120.6 317.4,118.8 321.7,117.3 326.1,116.3 330.5,115.7 334.9,115.5 339.2,115.6 343.6,114.1 347.9,112.6 352.1,111.5 356.4,110.7 360.7,110.3 364.9,110.3 369.2,110.6 373.5,110.3 377.7,108.7 382.0,107.4 386.0,106.4 390.0,105.8 394.0,105.6 398.0,105.7 402.0,106.0 406.0,105.2 410.0,103.7 414.0,102.4 418.0,101.5 421.9,100.5 425.8,99.9 429.7,99.5 433.6,99.3 437.4,97.9 441.3,96.0 445.2,94.3 449.1,93.0 453.0,92.0 457.3,91.7 461.7,91.8 466.0,92.0 470.3,90.2 474.7,88.6 479.0,87.4 483.3,86.6 487.7,86.2 492.0,86.2 496.5,86.3 501.0,84.8 505.5,83.0 510.0,81.5 514.5,80.5 519.0,80.0 523.2,79.9 527.5,80.1 531.8,78.9 536.0,77.2 540.2,75.8 544.5,74.8 548.8,74.2 553.0,73.9 557.2,74.0 561.5,73.2 565.8,73.0 570.0,71.7 574.3,70.2 578.7,69.0 583.0,68.3 587.3,67.9 591.7,67.6 596.0,66.0 600.2,64.8 604.4,64.0 608.6,63.5 612.9,63.3 617.1,63.3 621.3,62.0 625.5,60.8 629.7,60.0 634.0,59.5 638.2,59.3 642.4,59.3 646.6,58.1 650.7,57.7 654.7,57.6 658.8,57.9 662.9,58.4 666.9,59.2 671.0,59.3 675.0,58.8 679.1,58.6 683.2,58.7 687.2,59.2 691.3,59.8 695.4,60.5 699.4,60.0 703.5,59.7 707.5,59.6 711.6,59.9 715.6,60.8 719.6,61.8 723.6,61.9 727.6,61.8 731.7,61.9 735.7,62.3 739.7,63.0 743.7,64.0 747.7,64.7 751.8,64.3 756.0,64.1 760.1,64.3 764.2,64.7 768.3,65.5 772.5,66.4 776.6,66.0 780.7,65.8 784.9,65.8 789.0,66.2 793.1,66.9 797.2,67.8 801.4,67.8 805.5,67.4 809.6,67.5 813.7,67.9 817.8,68.7 821.9,69.7 826.0,70.2 830.1,70.0 834.2,69.9 838.4,70.3 842.5,70.9 846.6,71.8 850.7,72.8 854.8,72.5 858.9,72.4 863.0,72.6 867.1,72.9 871.3,73.5 875.4,74.2 879.6,73.9 883.7,73.5 887.9,73.3 892.0,73.5 896.1,74.0 900.3,74.8 904.4,74.8 908.6,74.4 912.7,74.1 916.9,74.2 921.0,74.6 925.1,75.5 929.1,76.2 933.2,75.9 937.2,75.8 941.3,76.0 945.4,76.5 949.4,77.3 953.5,78.3 957.6,78.1 961.6,77.9 965.7,78.0 969.8,78.4 973.8,79.1 977.9,80.0 981.9,80.3 986.0,80.1 990.2,79.8 994.3,79.8 998.5,80.1 1002.6,80.8 1006.8,81.2 1010.9,80.7 1015.1,80.3 1019.2,80.2 1023.4,80.5 1027.5,81.1 1031.7,81.8 1035.8,81.3 1040.0,80.8 1044.0,80.9 1048.0,81.2 1052.0,81.8 1056.0,82.7 1060.0,82.9 1064.0,82.6 1068.0,82.4 1072.0,82.6 1076.0,83.1 1080.0,83.9 1084.6,85.6 1089.2,86.2 1093.8,87.1 1098.4,88.4 1103.0,90.1 1107.7,89.6 1112.3,88.1 1117.0,86.3 1121.3,87.6 1125.7,89.3 1130.0,91.4 1133.8,93.7 1137.5,94.8 1141.2,96.0 1145.0,97.6 1150.0,100.4 1155.0,104.0 1166.0,111.0 1166.0,118.0 801.0,225.0 197.7,176.0" fill="url(#ptop)" />
<g clip-path="url(#ptclip)">
<g><ellipse cx="253.1" cy="147.8" rx="5.8" ry="1.9" fill="#666" opacity="0.3"/><ellipse cx="253.1" cy="150.5" rx="5.3" ry="1.7" fill="#1a1a1a" opacity="0.6"/><ellipse cx="282.2" cy="149.6" rx="5.8" ry="1.9" fill="#666" opacity="0.3"/><ellipse cx="282.2" cy="152.3" rx="5.3" ry="1.7" fill="#1a1a1a" opacity="0.6"/><ellipse cx="306.0" cy="152.1" rx="5.8" ry="1.9" fill="#666" opacity="0.3"/><ellipse cx="306.0" cy="154.8" rx="5.3" ry="1.7" fill="#1a1a1a" opacity="0.6"/><ellipse cx="330.4" cy="153.9" rx="5.8" ry="1.9" fill="#666" opacity="0.3"/><ellipse cx="330.4" cy="156.6" rx="5.3" ry="1.7" fill="#1a1a1a" opacity="0.6"/><ellipse cx="359.4" cy="156.9" rx="5.8" ry="1.9" fill="#666" opacity="0.3"/><ellipse cx="359.4" cy="159.6" rx="5.3" ry="1.7" fill="#1a1a1a" opacity="0.6"/><ellipse cx="382.5" cy="157.5" rx="5.8" ry="1.9" fill="#666" opacity="0.3"/><ellipse cx="382.5" cy="160.2" rx="5.3" ry="1.7" fill="#1a1a1a" opacity="0.6"/><ellipse cx="408.8" cy="161.2" rx="5.8" ry="1.9" fill="#666" opacity="0.3"/><ellipse cx="408.8" cy="163.9" rx="5.3" ry="1.7" fill="#1a1a1a" opacity="0.6"/><ellipse cx="438.7" cy="161.0" rx="5.8" ry="1.9" fill="#666" opacity="0.3"/><ellipse cx="438.7" cy="163.7" rx="5.3" ry="1.7" fill="#1a1a1a" opacity="0.6"/><ellipse cx="466.7" cy="165.8" rx="5.8" ry="1.9" fill="#666" opacity="0.3"/><ellipse cx="466.7" cy="168.5" rx="5.3" ry="1.7" fill="#1a1a1a" opacity="0.6"/><ellipse cx="491.0" cy="166.9" rx="5.8" ry="1.9" fill="#666" opacity="0.3"/><ellipse cx="491.0" cy="169.6" rx="5.3" ry="1.7" fill="#1a1a1a" opacity="0.6"/><ellipse cx="514.4" cy="167.2" rx="5.8" ry="1.9" fill="#666" opacity="0.3"/><ellipse cx="514.4" cy="169.9" rx="5.3" ry="1.7" fill="#1a1a1a" opacity="0.6"/><ellipse cx="542.9" cy="169.5" rx="5.8" ry="1.9" fill="#666" opacity="0.3"/><ellipse cx="542.9" cy="172.2" rx="5.3" ry="1.7" fill="#1a1a1a" opacity="0.6"/><ellipse cx="567.2" cy="172.1" rx="5.8" ry="1.9" fill="#666" opacity="0.3"/><ellipse cx="567.2" cy="174.8" rx="5.3" ry="1.7" fill="#1a1a1a" opacity="0.6"/><ellipse cx="592.5" cy="174.9" rx="5.8" ry="1.9" fill="#666" opacity="0.3"/><ellipse cx="592.5" cy="177.6" rx="5.3" ry="1.7" fill="#1a1a1a" opacity="0.6"/><ellipse cx="621.3" cy="178.1" rx="5.8" ry="1.9" fill="#666" opacity="0.3"/><ellipse cx="621.3" cy="180.8" rx="5.3" ry="1.7" fill="#1a1a1a" opacity="0.6"/><ellipse cx="648.1" cy="179.6" rx="5.8" ry="1.9" fill="#666" opacity="0.3"/><ellipse cx="648.1" cy="182.3" rx="5.3" ry="1.7" fill="#1a1a1a" opacity="0.6"/><ellipse cx="674.2" cy="181.8" rx="5.8" ry="1.9" fill="#666" opacity="0.3"/><ellipse cx="674.2" cy="184.5" rx="5.3" ry="1.7" fill="#1a1a1a" opacity="0.6"/><ellipse cx="700.3" cy="182.8" rx="5.8" ry="1.9" fill="#666" opacity="0.3"/><ellipse cx="700.3" cy="185.5" rx="5.3" ry="1.7" fill="#1a1a1a" opacity="0.6"/><ellipse cx="729.8" cy="187.0" rx="5.8" ry="1.9" fill="#666" opacity="0.3"/><ellipse cx="729.8" cy="189.7" rx="5.3" ry="1.7" fill="#1a1a1a" opacity="0.6"/><ellipse cx="755.2" cy="188.3" rx="5.8" ry="1.9" fill="#666" opacity="0.3"/><ellipse cx="755.2" cy="191.0" rx="5.3" ry="1.7" fill="#1a1a1a" opacity="0.6"/><ellipse cx="778.4" cy="188.9" rx="5.8" ry="1.9" fill="#666" opacity="0.3"/><ellipse cx="778.4" cy="191.6" rx="5.3" ry="1.7" fill="#1a1a1a" opacity="0.6"/><ellipse cx="804.5" cy="190.6" rx="5.8" ry="1.9" fill="#666" opacity="0.3"/><ellipse cx="804.5" cy="193.3" rx="5.3" ry="1.7" fill="#1a1a1a" opacity="0.6"/><ellipse cx="276.1" cy="138.8" rx="5.6" ry="1.9" fill="#666" opacity="0.3"/><ellipse cx="276.1" cy="141.4" rx="5.1" ry="1.7" fill="#1a1a1a" opacity="0.6"/><ellipse cx="302.6" cy="140.8" rx="5.6" ry="1.9" fill="#666" opacity="0.3"/><ellipse cx="302.6" cy="143.5" rx="5.1" ry="1.7" fill="#1a1a1a" opacity="0.6"/><ellipse cx="329.3" cy="144.4" rx="5.6" ry="1.9" fill="#666" opacity="0.3"/><ellipse cx="329.3" cy="147.0" rx="5.1" ry="1.7" fill="#1a1a1a" opacity="0.6"/><ellipse cx="349.7" cy="144.6" rx="5.6" ry="1.9" fill="#666" opacity="0.3"/><ellipse cx="349.7" cy="147.2" rx="5.1" ry="1.7" fill="#1a1a1a" opacity="0.6"/><ellipse cx="381.2" cy="147.5" rx="5.6" ry="1.9" fill="#666" opacity="0.3"/><ellipse cx="381.2" cy="150.1" rx="5.1" ry="1.7" fill="#1a1a1a" opacity="0.6"/><ellipse cx="407.7" cy="149.4" rx="5.6" ry="1.9" fill="#666" opacity="0.3"/><ellipse cx="407.7" cy="152.0" rx="5.1" ry="1.7" fill="#1a1a1a" opacity="0.6"/><ellipse cx="428.3" cy="152.2" rx="5.6" ry="1.9" fill="#666" opacity="0.3"/><ellipse cx="428.3" cy="154.8" rx="5.1" ry="1.7" fill="#1a1a1a" opacity="0.6"/><ellipse cx="458.6" cy="153.3" rx="5.6" ry="1.9" fill="#666" opacity="0.3"/><ellipse cx="458.6" cy="155.9" rx="5.1" ry="1.7" fill="#1a1a1a" opacity="0.6"/><ellipse cx="480.5" cy="155.6" rx="5.6" ry="1.9" fill="#666" opacity="0.3"/><ellipse cx="480.5" cy="158.2" rx="5.1" ry="1.7" fill="#1a1a1a" opacity="0.6"/><ellipse cx="511.8" cy="159.0" rx="5.6" ry="1.9" fill="#666" opacity="0.3"/><ellipse cx="511.8" cy="161.6" rx="5.1" ry="1.7" fill="#1a1a1a" opacity="0.6"/><ellipse cx="532.8" cy="159.6" rx="5.6" ry="1.9" fill="#666" opacity="0.3"/><ellipse cx="532.8" cy="162.2" rx="5.1" ry="1.7" fill="#1a1a1a" opacity="0.6"/><ellipse cx="558.8" cy="161.1" rx="5.6" ry="1.9" fill="#666" opacity="0.3"/><ellipse cx="558.8" cy="163.7" rx="5.1" ry="1.7" fill="#1a1a1a" opacity="0.6"/><ellipse cx="589.0" cy="163.6" rx="5.6" ry="1.9" fill="#666" opacity="0.3"/><ellipse cx="589.0" cy="166.2" rx="5.1" ry="1.7" fill="#1a1a1a" opacity="0.6"/><ellipse cx="613.6" cy="166.5" rx="5.6" ry="1.9" fill="#666" opacity="0.3"/><ellipse cx="613.6" cy="169.1" rx="5.1" ry="1.7" fill="#1a1a1a" opacity="0.6"/><ellipse cx="637.5" cy="169.5" rx="5.6" ry="1.9" fill="#666" opacity="0.3"/><ellipse cx="637.5" cy="172.1" rx="5.1" ry="1.7" fill="#1a1a1a" opacity="0.6"/><ellipse cx="663.2" cy="171.4" rx="5.6" ry="1.9" fill="#666" opacity="0.3"/><ellipse cx="663.2" cy="174.0" rx="5.1" ry="1.7" fill="#1a1a1a" opacity="0.6"/><ellipse cx="689.2" cy="172.8" rx="5.6" ry="1.9" fill="#666" opacity="0.3"/><ellipse cx="689.2" cy="175.4" rx="5.1" ry="1.7" fill="#1a1a1a" opacity="0.6"/><ellipse cx="715.8" cy="174.5" rx="5.6" ry="1.9" fill="#666" opacity="0.3"/><ellipse cx="715.8" cy="177.1" rx="5.1" ry="1.7" fill="#1a1a1a" opacity="0.6"/><ellipse cx="746.4" cy="178.2" rx="5.6" ry="1.9" fill="#666" opacity="0.3"/><ellipse cx="746.4" cy="180.8" rx="5.1" ry="1.7" fill="#1a1a1a" opacity="0.6"/><ellipse cx="768.5" cy="180.6" rx="5.6" ry="1.9" fill="#666" opacity="0.3"/><ellipse cx="768.5" cy="183.2" rx="5.1" ry="1.7" fill="#1a1a1a" opacity="0.6"/><ellipse cx="794.0" cy="181.3" rx="5.6" ry="1.9" fill="#666" opacity="0.3"/><ellipse cx="794.0" cy="183.9" rx="5.1" ry="1.7" fill="#1a1a1a" opacity="0.6"/><ellipse cx="823.9" cy="184.1" rx="5.6" ry="1.9" fill="#666" opacity="0.3"/><ellipse cx="823.9" cy="186.7" rx="5.1" ry="1.7" fill="#1a1a1a" opacity="0.6"/><ellipse cx="845.4" cy="187.3" rx="5.6" ry="1.9" fill="#666" opacity="0.3"/><ellipse cx="845.4" cy="189.9" rx="5.1" ry="1.7" fill="#1a1a1a" opacity="0.6"/><ellipse cx="319.9" cy="131.9" rx="5.4" ry="1.8" fill="#666" opacity="0.3"/><ellipse cx="319.9" cy="134.4" rx="4.9" ry="1.6" fill="#1a1a1a" opacity="0.6"/><ellipse cx="349.1" cy="134.3" rx="5.4" ry="1.8" fill="#666" opacity="0.3"/><ellipse cx="349.1" cy="136.8" rx="4.9" ry="1.6" fill="#1a1a1a" opacity="0.6"/><ellipse cx="372.0" cy="135.7" rx="5.4" ry="1.8" fill="#666" opacity="0.3"/><ellipse cx="372.0" cy="138.2" rx="4.9" ry="1.6" fill="#1a1a1a" opacity="0.6"/><ellipse cx="396.6" cy="139.3" rx="5.4" ry="1.8" fill="#666" opacity="0.3"/><ellipse cx="396.6" cy="141.9" rx="4.9" ry="1.6" fill="#1a1a1a" opacity="0.6"/><ellipse cx="423.3" cy="141.5" rx="5.4" ry="1.8" fill="#666" opacity="0.3"/><ellipse cx="423.3" cy="144.1" rx="4.9" ry="1.6" fill="#1a1a1a" opacity="0.6"/><ellipse cx="449.9" cy="143.2" rx="5.4" ry="1.8" fill="#666" opacity="0.3"/><ellipse cx="449.9" cy="145.7" rx="4.9" ry="1.6" fill="#1a1a1a" opacity="0.6"/><ellipse cx="479.3" cy="145.5" rx="5.4" ry="1.8" fill="#666" opacity="0.3"/><ellipse cx="479.3" cy="148.0" rx="4.9" ry="1.6" fill="#1a1a1a" opacity="0.6"/><ellipse cx="502.8" cy="148.8" rx="5.4" ry="1.8" fill="#666" opacity="0.3"/><ellipse cx="502.8" cy="151.3" rx="4.9" ry="1.6" fill="#1a1a1a" opacity="0.6"/><ellipse cx="526.3" cy="148.8" rx="5.4" ry="1.8" fill="#666" opacity="0.3"/><ellipse cx="526.3" cy="151.3" rx="4.9" ry="1.6" fill="#1a1a1a" opacity="0.6"/><ellipse cx="556.4" cy="152.9" rx="5.4" ry="1.8" fill="#666" opacity="0.3"/><ellipse cx="556.4" cy="155.4" rx="4.9" ry="1.6" fill="#1a1a1a" opacity="0.6"/><ellipse cx="578.3" cy="153.2" rx="5.4" ry="1.8" fill="#666" opacity="0.3"/><ellipse cx="578.3" cy="155.7" rx="4.9" ry="1.6" fill="#1a1a1a" opacity="0.6"/><ellipse cx="607.1" cy="157.6" rx="5.4" ry="1.8" fill="#666" opacity="0.3"/><ellipse cx="607.1" cy="160.1" rx="4.9" ry="1.6" fill="#1a1a1a" opacity="0.6"/><ellipse cx="629.6" cy="159.7" rx="5.4" ry="1.8" fill="#666" opacity="0.3"/><ellipse cx="629.6" cy="162.2" rx="4.9" ry="1.6" fill="#1a1a1a" opacity="0.6"/><ellipse cx="659.6" cy="160.8" rx="5.4" ry="1.8" fill="#666" opacity="0.3"/><ellipse cx="659.6" cy="163.3" rx="4.9" ry="1.6" fill="#1a1a1a" opacity="0.6"/><ellipse cx="682.6" cy="161.5" rx="5.4" ry="1.8" fill="#666" opacity="0.3"/><ellipse cx="682.6" cy="164.0" rx="4.9" ry="1.6" fill="#1a1a1a" opacity="0.6"/><ellipse cx="706.2" cy="166.2" rx="5.4" ry="1.8" fill="#666" opacity="0.3"/><ellipse cx="706.2" cy="168.7" rx="4.9" ry="1.6" fill="#1a1a1a" opacity="0.6"/><ellipse cx="733.2" cy="167.6" rx="5.4" ry="1.8" fill="#666" opacity="0.3"/><ellipse cx="733.2" cy="170.1" rx="4.9" ry="1.6" fill="#1a1a1a" opacity="0.6"/><ellipse cx="759.1" cy="170.1" rx="5.4" ry="1.8" fill="#666" opacity="0.3"/><ellipse cx="759.1" cy="172.6" rx="4.9" ry="1.6" fill="#1a1a1a" opacity="0.6"/><ellipse cx="787.0" cy="170.6" rx="5.4" ry="1.8" fill="#666" opacity="0.3"/><ellipse cx="787.0" cy="173.1" rx="4.9" ry="1.6" fill="#1a1a1a" opacity="0.6"/><ellipse cx="810.3" cy="174.0" rx="5.4" ry="1.8" fill="#666" opacity="0.3"/><ellipse cx="810.3" cy="176.6" rx="4.9" ry="1.6" fill="#1a1a1a" opacity="0.6"/><ellipse cx="835.4" cy="174.7" rx="5.4" ry="1.8" fill="#666" opacity="0.3"/><ellipse cx="835.4" cy="177.2" rx="4.9" ry="1.6" fill="#1a1a1a" opacity="0.6"/><ellipse cx="864.2" cy="178.7" rx="5.4" ry="1.8" fill="#666" opacity="0.3"/><ellipse cx="864.2" cy="181.2" rx="4.9" ry="1.6" fill="#1a1a1a" opacity="0.6"/><ellipse cx="343.6" cy="123.5" rx="5.2" ry="1.7" fill="#666" opacity="0.3"/><ellipse cx="343.6" cy="125.9" rx="4.7" ry="1.6" fill="#1a1a1a" opacity="0.6"/><ellipse cx="371.0" cy="125.4" rx="5.2" ry="1.7" fill="#666" opacity="0.3"/><ellipse cx="371.0" cy="127.8" rx="4.7" ry="1.6" fill="#1a1a1a" opacity="0.6"/><ellipse cx="391.2" cy="127.8" rx="5.2" ry="1.7" fill="#666" opacity="0.3"/><ellipse cx="391.2" cy="130.2" rx="4.7" ry="1.6" fill="#1a1a1a" opacity="0.6"/><ellipse cx="419.3" cy="129.3" rx="5.2" ry="1.7" fill="#666" opacity="0.3"/><ellipse cx="419.3" cy="131.7" rx="4.7" ry="1.6" fill="#1a1a1a" opacity="0.6"/><ellipse cx="443.3" cy="132.4" rx="5.2" ry="1.7" fill="#666" opacity="0.3"/><ellipse cx="443.3" cy="134.8" rx="4.7" ry="1.6" fill="#1a1a1a" opacity="0.6"/><ellipse cx="471.3" cy="133.8" rx="5.2" ry="1.7" fill="#666" opacity="0.3"/><ellipse cx="471.3" cy="136.2" rx="4.7" ry="1.6" fill="#1a1a1a" opacity="0.6"/><ellipse cx="495.6" cy="138.3" rx="5.2" ry="1.7" fill="#666" opacity="0.3"/><ellipse cx="495.6" cy="140.7" rx="4.7" ry="1.6" fill="#1a1a1a" opacity="0.6"/><ellipse cx="524.9" cy="139.7" rx="5.2" ry="1.7" fill="#666" opacity="0.3"/><ellipse cx="524.9" cy="142.1" rx="4.7" ry="1.6" fill="#1a1a1a" opacity="0.6"/><ellipse cx="548.7" cy="141.7" rx="5.2" ry="1.7" fill="#666" opacity="0.3"/><ellipse cx="548.7" cy="144.1" rx="4.7" ry="1.6" fill="#1a1a1a" opacity="0.6"/><ellipse cx="571.0" cy="142.2" rx="5.2" ry="1.7" fill="#666" opacity="0.3"/><ellipse cx="571.0" cy="144.6" rx="4.7" ry="1.6" fill="#1a1a1a" opacity="0.6"/><ellipse cx="595.8" cy="147.0" rx="5.2" ry="1.7" fill="#666" opacity="0.3"/><ellipse cx="595.8" cy="149.4" rx="4.7" ry="1.6" fill="#1a1a1a" opacity="0.6"/><ellipse cx="625.5" cy="149.3" rx="5.2" ry="1.7" fill="#666" opacity="0.3"/><ellipse cx="625.5" cy="151.7" rx="4.7" ry="1.6" fill="#1a1a1a" opacity="0.6"/><ellipse cx="647.0" cy="150.5" rx="5.2" ry="1.7" fill="#666" opacity="0.3"/><ellipse cx="647.0" cy="152.9" rx="4.7" ry="1.6" fill="#1a1a1a" opacity="0.6"/><ellipse cx="675.4" cy="152.9" rx="5.2" ry="1.7" fill="#666" opacity="0.3"/><ellipse cx="675.4" cy="155.3" rx="4.7" ry="1.6" fill="#1a1a1a" opacity="0.6"/><ellipse cx="700.0" cy="155.9" rx="5.2" ry="1.7" fill="#666" opacity="0.3"/><ellipse cx="700.0" cy="158.3" rx="4.7" ry="1.6" fill="#1a1a1a" opacity="0.6"/><ellipse cx="724.1" cy="156.7" rx="5.2" ry="1.7" fill="#666" opacity="0.3"/><ellipse cx="724.1" cy="159.1" rx="4.7" ry="1.6" fill="#1a1a1a" opacity="0.6"/><ellipse cx="753.6" cy="159.9" rx="5.2" ry="1.7" fill="#666" opacity="0.3"/><ellipse cx="753.6" cy="162.3" rx="4.7" ry="1.6" fill="#1a1a1a" opacity="0.6"/><ellipse cx="779.2" cy="161.5" rx="5.2" ry="1.7" fill="#666" opacity="0.3"/><ellipse cx="779.2" cy="163.9" rx="4.7" ry="1.6" fill="#1a1a1a" opacity="0.6"/><ellipse cx="805.1" cy="164.3" rx="5.2" ry="1.7" fill="#666" opacity="0.3"/><ellipse cx="805.1" cy="166.7" rx="4.7" ry="1.6" fill="#1a1a1a" opacity="0.6"/><ellipse cx="828.1" cy="165.7" rx="5.2" ry="1.7" fill="#666" opacity="0.3"/><ellipse cx="828.1" cy="168.1" rx="4.7" ry="1.6" fill="#1a1a1a" opacity="0.6"/><ellipse cx="856.9" cy="168.5" rx="5.2" ry="1.7" fill="#666" opacity="0.3"/><ellipse cx="856.9" cy="170.9" rx="4.7" ry="1.6" fill="#1a1a1a" opacity="0.6"/><ellipse cx="879.6" cy="170.4" rx="5.2" ry="1.7" fill="#666" opacity="0.3"/><ellipse cx="879.6" cy="172.8" rx="4.7" ry="1.6" fill="#1a1a1a" opacity="0.6"/><ellipse cx="907.9" cy="171.9" rx="5.2" ry="1.7" fill="#666" opacity="0.3"/><ellipse cx="907.9" cy="174.3" rx="4.7" ry="1.6" fill="#1a1a1a" opacity="0.6"/><ellipse cx="390.6" cy="117.4" rx="5.0" ry="1.7" fill="#666" opacity="0.3"/><ellipse cx="390.6" cy="119.7" rx="4.5" ry="1.5" fill="#1a1a1a" opacity="0.6"/><ellipse cx="415.7" cy="120.2" rx="5.0" ry="1.7" fill="#666" opacity="0.3"/><ellipse cx="415.7" cy="122.6" rx="4.5" ry="1.5" fill="#1a1a1a" opacity="0.6"/><ellipse cx="438.0" cy="122.5" rx="5.0" ry="1.7" fill="#666" opacity="0.3"/><ellipse cx="438.0" cy="124.8" rx="4.5" ry="1.5" fill="#1a1a1a" opacity="0.6"/><ellipse cx="468.8" cy="125.4" rx="5.0" ry="1.7" fill="#666" opacity="0.3"/><ellipse cx="468.8" cy="127.7" rx="4.5" ry="1.5" fill="#1a1a1a" opacity="0.6"/><ellipse cx="492.5" cy="126.1" rx="5.0" ry="1.7" fill="#666" opacity="0.3"/><ellipse cx="492.5" cy="128.4" rx="4.5" ry="1.5" fill="#1a1a1a" opacity="0.6"/><ellipse cx="517.9" cy="128.9" rx="5.0" ry="1.7" fill="#666" opacity="0.3"/><ellipse cx="517.9" cy="131.2" rx="4.5" ry="1.5" fill="#1a1a1a" opacity="0.6"/><ellipse cx="541.5" cy="131.8" rx="5.0" ry="1.7" fill="#666" opacity="0.3"/><ellipse cx="541.5" cy="134.1" rx="4.5" ry="1.5" fill="#1a1a1a" opacity="0.6"/><ellipse cx="564.7" cy="133.7" rx="5.0" ry="1.7" fill="#666" opacity="0.3"/><ellipse cx="564.7" cy="136.1" rx="4.5" ry="1.5" fill="#1a1a1a" opacity="0.6"/><ellipse cx="589.7" cy="135.5" rx="5.0" ry="1.7" fill="#666" opacity="0.3"/><ellipse cx="589.7" cy="137.8" rx="4.5" ry="1.5" fill="#1a1a1a" opacity="0.6"/><ellipse cx="617.8" cy="136.5" rx="5.0" ry="1.7" fill="#666" opacity="0.3"/><ellipse cx="617.8" cy="138.9" rx="4.5" ry="1.5" fill="#1a1a1a" opacity="0.6"/><ellipse cx="644.4" cy="139.5" rx="5.0" ry="1.7" fill="#666" opacity="0.3"/><ellipse cx="644.4" cy="141.8" rx="4.5" ry="1.5" fill="#1a1a1a" opacity="0.6"/><ellipse cx="669.2" cy="143.0" rx="5.0" ry="1.7" fill="#666" opacity="0.3"/><ellipse cx="669.2" cy="145.3" rx="4.5" ry="1.5" fill="#1a1a1a" opacity="0.6"/><ellipse cx="692.4" cy="142.4" rx="5.0" ry="1.7" fill="#666" opacity="0.3"/><ellipse cx="692.4" cy="144.7" rx="4.5" ry="1.5" fill="#1a1a1a" opacity="0.6"/><ellipse cx="718.0" cy="146.6" rx="5.0" ry="1.7" fill="#666" opacity="0.3"/><ellipse cx="718.0" cy="148.9" rx="4.5" ry="1.5" fill="#1a1a1a" opacity="0.6"/><ellipse cx="742.8" cy="147.2" rx="5.0" ry="1.7" fill="#666" opacity="0.3"/><ellipse cx="742.8" cy="149.6" rx="4.5" ry="1.5" fill="#1a1a1a" opacity="0.6"/><ellipse cx="772.3" cy="150.9" rx="5.0" ry="1.7" fill="#666" opacity="0.3"/><ellipse cx="772.3" cy="153.2" rx="4.5" ry="1.5" fill="#1a1a1a" opacity="0.6"/><ellipse cx="794.9" cy="153.8" rx="5.0" ry="1.7" fill="#666" opacity="0.3"/><ellipse cx="794.9" cy="156.1" rx="4.5" ry="1.5" fill="#1a1a1a" opacity="0.6"/><ellipse cx="819.6" cy="155.3" rx="5.0" ry="1.7" fill="#666" opacity="0.3"/><ellipse cx="819.6" cy="157.6" rx="4.5" ry="1.5" fill="#1a1a1a" opacity="0.6"/><ellipse cx="844.1" cy="156.7" rx="5.0" ry="1.7" fill="#666" opacity="0.3"/><ellipse cx="844.1" cy="159.1" rx="4.5" ry="1.5" fill="#1a1a1a" opacity="0.6"/><ellipse cx="873.1" cy="160.4" rx="5.0" ry="1.7" fill="#666" opacity="0.3"/><ellipse cx="873.1" cy="162.7" rx="4.5" ry="1.5" fill="#1a1a1a" opacity="0.6"/><ellipse cx="898.9" cy="161.0" rx="5.0" ry="1.7" fill="#666" opacity="0.3"/><ellipse cx="898.9" cy="163.3" rx="4.5" ry="1.5" fill="#1a1a1a" opacity="0.6"/><ellipse cx="922.4" cy="162.9" rx="5.0" ry="1.7" fill="#666" opacity="0.3"/><ellipse cx="922.4" cy="165.3" rx="4.5" ry="1.5" fill="#1a1a1a" opacity="0.6"/><ellipse cx="409.2" cy="109.2" rx="4.8" ry="1.6" fill="#666" opacity="0.3"/><ellipse cx="409.2" cy="111.4" rx="4.4" ry="1.4" fill="#1a1a1a" opacity="0.6"/><ellipse cx="438.5" cy="112.4" rx="4.8" ry="1.6" fill="#666" opacity="0.3"/><ellipse cx="438.5" cy="114.6" rx="4.4" ry="1.4" fill="#1a1a1a" opacity="0.6"/><ellipse cx="462.8" cy="114.9" rx="4.8" ry="1.6" fill="#666" opacity="0.3"/><ellipse cx="462.8" cy="117.1" rx="4.4" ry="1.4" fill="#1a1a1a" opacity="0.6"/><ellipse cx="485.3" cy="114.8" rx="4.8" ry="1.6" fill="#666" opacity="0.3"/><ellipse cx="485.3" cy="117.0" rx="4.4" ry="1.4" fill="#1a1a1a" opacity="0.6"/><ellipse cx="511.5" cy="117.3" rx="4.8" ry="1.6" fill="#666" opacity="0.3"/><ellipse cx="511.5" cy="119.5" rx="4.4" ry="1.4" fill="#1a1a1a" opacity="0.6"/><ellipse cx="535.2" cy="119.9" rx="4.8" ry="1.6" fill="#666" opacity="0.3"/><ellipse cx="535.2" cy="122.1" rx="4.4" ry="1.4" fill="#1a1a1a" opacity="0.6"/><ellipse cx="562.7" cy="122.3" rx="4.8" ry="1.6" fill="#666" opacity="0.3"/><ellipse cx="562.7" cy="124.6" rx="4.4" ry="1.4" fill="#1a1a1a" opacity="0.6"/><ellipse cx="586.0" cy="125.6" rx="4.8" ry="1.6" fill="#666" opacity="0.3"/><ellipse cx="586.0" cy="127.8" rx="4.4" ry="1.4" fill="#1a1a1a" opacity="0.6"/><ellipse cx="615.1" cy="126.6" rx="4.8" ry="1.6" fill="#666" opacity="0.3"/><ellipse cx="615.1" cy="128.8" rx="4.4" ry="1.4" fill="#1a1a1a" opacity="0.6"/><ellipse cx="634.7" cy="127.5" rx="4.8" ry="1.6" fill="#666" opacity="0.3"/><ellipse cx="634.7" cy="129.8" rx="4.4" ry="1.4" fill="#1a1a1a" opacity="0.6"/><ellipse cx="664.6" cy="129.8" rx="4.8" ry="1.6" fill="#666" opacity="0.3"/><ellipse cx="664.6" cy="132.0" rx="4.4" ry="1.4" fill="#1a1a1a" opacity="0.6"/><ellipse cx="688.7" cy="133.6" rx="4.8" ry="1.6" fill="#666" opacity="0.3"/><ellipse cx="688.7" cy="135.8" rx="4.4" ry="1.4" fill="#1a1a1a" opacity="0.6"/><ellipse cx="711.4" cy="136.4" rx="4.8" ry="1.6" fill="#666" opacity="0.3"/><ellipse cx="711.4" cy="138.6" rx="4.4" ry="1.4" fill="#1a1a1a" opacity="0.6"/><ellipse cx="734.8" cy="136.6" rx="4.8" ry="1.6" fill="#666" opacity="0.3"/><ellipse cx="734.8" cy="138.9" rx="4.4" ry="1.4" fill="#1a1a1a" opacity="0.6"/><ellipse cx="762.5" cy="138.5" rx="4.8" ry="1.6" fill="#666" opacity="0.3"/><ellipse cx="762.5" cy="140.7" rx="4.4" ry="1.4" fill="#1a1a1a" opacity="0.6"/><ellipse cx="789.8" cy="141.3" rx="4.8" ry="1.6" fill="#666" opacity="0.3"/><ellipse cx="789.8" cy="143.6" rx="4.4" ry="1.4" fill="#1a1a1a" opacity="0.6"/><ellipse cx="810.8" cy="143.0" rx="4.8" ry="1.6" fill="#666" opacity="0.3"/><ellipse cx="810.8" cy="145.2" rx="4.4" ry="1.4" fill="#1a1a1a" opacity="0.6"/><ellipse cx="838.8" cy="146.4" rx="4.8" ry="1.6" fill="#666" opacity="0.3"/><ellipse cx="838.8" cy="148.6" rx="4.4" ry="1.4" fill="#1a1a1a" opacity="0.6"/><ellipse cx="863.9" cy="149.2" rx="4.8" ry="1.6" fill="#666" opacity="0.3"/><ellipse cx="863.9" cy="151.4" rx="4.4" ry="1.4" fill="#1a1a1a" opacity="0.6"/><ellipse cx="890.1" cy="152.3" rx="4.8" ry="1.6" fill="#666" opacity="0.3"/><ellipse cx="890.1" cy="154.5" rx="4.4" ry="1.4" fill="#1a1a1a" opacity="0.6"/><ellipse cx="914.4" cy="152.2" rx="4.8" ry="1.6" fill="#666" opacity="0.3"/><ellipse cx="914.4" cy="154.4" rx="4.4" ry="1.4" fill="#1a1a1a" opacity="0.6"/><ellipse cx="938.3" cy="154.3" rx="4.8" ry="1.6" fill="#666" opacity="0.3"/><ellipse cx="938.3" cy="156.6" rx="4.4" ry="1.4" fill="#1a1a1a" opacity="0.6"/><ellipse cx="960.6" cy="157.4" rx="4.8" ry="1.6" fill="#666" opacity="0.3"/><ellipse cx="960.6" cy="159.6" rx="4.4" ry="1.4" fill="#1a1a1a" opacity="0.6"/><ellipse cx="459.3" cy="101.9" rx="4.5" ry="1.5" fill="#666" opacity="0.3"/><ellipse cx="459.3" cy="104.0" rx="4.2" ry="1.4" fill="#1a1a1a" opacity="0.6"/><ellipse cx="481.5" cy="104.6" rx="4.5" ry="1.5" fill="#666" opacity="0.3"/><ellipse cx="481.5" cy="106.7" rx="4.2" ry="1.4" fill="#1a1a1a" opacity="0.6"/><ellipse cx="508.9" cy="107.3" rx="4.5" ry="1.5" fill="#666" opacity="0.3"/><ellipse cx="508.9" cy="109.4" rx="4.2" ry="1.4" fill="#1a1a1a" opacity="0.6"/><ellipse cx="533.3" cy="110.2" rx="4.5" ry="1.5" fill="#666" opacity="0.3"/><ellipse cx="533.3" cy="112.4" rx="4.2" ry="1.4" fill="#1a1a1a" opacity="0.6"/><ellipse cx="556.8" cy="112.6" rx="4.5" ry="1.5" fill="#666" opacity="0.3"/><ellipse cx="556.8" cy="114.7" rx="4.2" ry="1.4" fill="#1a1a1a" opacity="0.6"/><ellipse cx="584.8" cy="112.7" rx="4.5" ry="1.5" fill="#666" opacity="0.3"/><ellipse cx="584.8" cy="114.8" rx="4.2" ry="1.4" fill="#1a1a1a" opacity="0.6"/><ellipse cx="609.8" cy="116.8" rx="4.5" ry="1.5" fill="#666" opacity="0.3"/><ellipse cx="609.8" cy="118.9" rx="4.2" ry="1.4" fill="#1a1a1a" opacity="0.6"/><ellipse cx="629.8" cy="118.2" rx="4.5" ry="1.5" fill="#666" opacity="0.3"/><ellipse cx="629.8" cy="120.3" rx="4.2" ry="1.4" fill="#1a1a1a" opacity="0.6"/><ellipse cx="657.7" cy="121.8" rx="4.5" ry="1.5" fill="#666" opacity="0.3"/><ellipse cx="657.7" cy="123.9" rx="4.2" ry="1.4" fill="#1a1a1a" opacity="0.6"/><ellipse cx="681.0" cy="122.9" rx="4.5" ry="1.5" fill="#666" opacity="0.3"/><ellipse cx="681.0" cy="125.1" rx="4.2" ry="1.4" fill="#1a1a1a" opacity="0.6"/><ellipse cx="708.9" cy="125.8" rx="4.5" ry="1.5" fill="#666" opacity="0.3"/><ellipse cx="708.9" cy="128.0" rx="4.2" ry="1.4" fill="#1a1a1a" opacity="0.6"/><ellipse cx="734.1" cy="127.1" rx="4.5" ry="1.5" fill="#666" opacity="0.3"/><ellipse cx="734.1" cy="129.2" rx="4.2" ry="1.4" fill="#1a1a1a" opacity="0.6"/><ellipse cx="757.2" cy="128.5" rx="4.5" ry="1.5" fill="#666" opacity="0.3"/><ellipse cx="757.2" cy="130.6" rx="4.2" ry="1.4" fill="#1a1a1a" opacity="0.6"/><ellipse cx="782.5" cy="132.5" rx="4.5" ry="1.5" fill="#666" opacity="0.3"/><ellipse cx="782.5" cy="134.7" rx="4.2" ry="1.4" fill="#1a1a1a" opacity="0.6"/><ellipse cx="806.9" cy="134.5" rx="4.5" ry="1.5" fill="#666" opacity="0.3"/><ellipse cx="806.9" cy="136.6" rx="4.2" ry="1.4" fill="#1a1a1a" opacity="0.6"/><ellipse cx="829.2" cy="137.2" rx="4.5" ry="1.5" fill="#666" opacity="0.3"/><ellipse cx="829.2" cy="139.3" rx="4.2" ry="1.4" fill="#1a1a1a" opacity="0.6"/><ellipse cx="858.6" cy="139.7" rx="4.5" ry="1.5" fill="#666" opacity="0.3"/><ellipse cx="858.6" cy="141.8" rx="4.2" ry="1.4" fill="#1a1a1a" opacity="0.6"/><ellipse cx="880.8" cy="141.3" rx="4.5" ry="1.5" fill="#666" opacity="0.3"/><ellipse cx="880.8" cy="143.4" rx="4.2" ry="1.4" fill="#1a1a1a" opacity="0.6"/><ellipse cx="904.4" cy="143.9" rx="4.5" ry="1.5" fill="#666" opacity="0.3"/><ellipse cx="904.4" cy="146.0" rx="4.2" ry="1.4" fill="#1a1a1a" opacity="0.6"/><ellipse cx="932.5" cy="144.4" rx="4.5" ry="1.5" fill="#666" opacity="0.3"/><ellipse cx="932.5" cy="146.5" rx="4.2" ry="1.4" fill="#1a1a1a" opacity="0.6"/><ellipse cx="952.7" cy="146.9" rx="4.5" ry="1.5" fill="#666" opacity="0.3"/><ellipse cx="952.7" cy="149.0" rx="4.2" ry="1.4" fill="#1a1a1a" opacity="0.6"/><ellipse cx="980.3" cy="150.1" rx="4.5" ry="1.5" fill="#666" opacity="0.3"/><ellipse cx="980.3" cy="152.2" rx="4.2" ry="1.4" fill="#1a1a1a" opacity="0.6"/><ellipse cx="479.8" cy="92.8" rx="4.3" ry="1.4" fill="#666" opacity="0.3"/><ellipse cx="479.8" cy="94.9" rx="4.0" ry="1.3" fill="#1a1a1a" opacity="0.6"/><ellipse cx="506.3" cy="95.2" rx="4.3" ry="1.4" fill="#666" opacity="0.3"/><ellipse cx="506.3" cy="97.2" rx="4.0" ry="1.3" fill="#1a1a1a" opacity="0.6"/><ellipse cx="530.9" cy="97.7" rx="4.3" ry="1.4" fill="#666" opacity="0.3"/><ellipse cx="530.9" cy="99.8" rx="4.0" ry="1.3" fill="#1a1a1a" opacity="0.6"/><ellipse cx="552.7" cy="101.8" rx="4.3" ry="1.4" fill="#666" opacity="0.3"/><ellipse cx="552.7" cy="103.8" rx="4.0" ry="1.3" fill="#1a1a1a" opacity="0.6"/><ellipse cx="576.2" cy="102.1" rx="4.3" ry="1.4" fill="#666" opacity="0.3"/><ellipse cx="576.2" cy="104.1" rx="4.0" ry="1.3" fill="#1a1a1a" opacity="0.6"/><ellipse cx="603.0" cy="106.1" rx="4.3" ry="1.4" fill="#666" opacity="0.3"/><ellipse cx="603.0" cy="108.1" rx="4.0" ry="1.3" fill="#1a1a1a" opacity="0.6"/><ellipse cx="629.6" cy="108.2" rx="4.3" ry="1.4" fill="#666" opacity="0.3"/><ellipse cx="629.6" cy="110.2" rx="4.0" ry="1.3" fill="#1a1a1a" opacity="0.6"/><ellipse cx="654.8" cy="109.8" rx="4.3" ry="1.4" fill="#666" opacity="0.3"/><ellipse cx="654.8" cy="111.9" rx="4.0" ry="1.3" fill="#1a1a1a" opacity="0.6"/><ellipse cx="679.5" cy="110.9" rx="4.3" ry="1.4" fill="#666" opacity="0.3"/><ellipse cx="679.5" cy="112.9" rx="4.0" ry="1.3" fill="#1a1a1a" opacity="0.6"/><ellipse cx="699.7" cy="114.4" rx="4.3" ry="1.4" fill="#666" opacity="0.3"/><ellipse cx="699.7" cy="116.4" rx="4.0" ry="1.3" fill="#1a1a1a" opacity="0.6"/><ellipse cx="724.7" cy="117.2" rx="4.3" ry="1.4" fill="#666" opacity="0.3"/><ellipse cx="724.7" cy="119.3" rx="4.0" ry="1.3" fill="#1a1a1a" opacity="0.6"/><ellipse cx="751.4" cy="118.9" rx="4.3" ry="1.4" fill="#666" opacity="0.3"/><ellipse cx="751.4" cy="120.9" rx="4.0" ry="1.3" fill="#1a1a1a" opacity="0.6"/><ellipse cx="777.3" cy="121.2" rx="4.3" ry="1.4" fill="#666" opacity="0.3"/><ellipse cx="777.3" cy="123.2" rx="4.0" ry="1.3" fill="#1a1a1a" opacity="0.6"/><ellipse cx="798.7" cy="122.9" rx="4.3" ry="1.4" fill="#666" opacity="0.3"/><ellipse cx="798.7" cy="124.9" rx="4.0" ry="1.3" fill="#1a1a1a" opacity="0.6"/><ellipse cx="826.5" cy="126.7" rx="4.3" ry="1.4" fill="#666" opacity="0.3"/><ellipse cx="826.5" cy="128.7" rx="4.0" ry="1.3" fill="#1a1a1a" opacity="0.6"/><ellipse cx="847.3" cy="128.8" rx="4.3" ry="1.4" fill="#666" opacity="0.3"/><ellipse cx="847.3" cy="130.8" rx="4.0" ry="1.3" fill="#1a1a1a" opacity="0.6"/><ellipse cx="876.5" cy="130.0" rx="4.3" ry="1.4" fill="#666" opacity="0.3"/><ellipse cx="876.5" cy="132.0" rx="4.0" ry="1.3" fill="#1a1a1a" opacity="0.6"/><ellipse cx="898.7" cy="131.3" rx="4.3" ry="1.4" fill="#666" opacity="0.3"/><ellipse cx="898.7" cy="133.3" rx="4.0" ry="1.3" fill="#1a1a1a" opacity="0.6"/><ellipse cx="923.1" cy="134.4" rx="4.3" ry="1.4" fill="#666" opacity="0.3"/><ellipse cx="923.1" cy="136.4" rx="4.0" ry="1.3" fill="#1a1a1a" opacity="0.6"/><ellipse cx="948.2" cy="135.2" rx="4.3" ry="1.4" fill="#666" opacity="0.3"/><ellipse cx="948.2" cy="137.2" rx="4.0" ry="1.3" fill="#1a1a1a" opacity="0.6"/><ellipse cx="975.0" cy="138.9" rx="4.3" ry="1.4" fill="#666" opacity="0.3"/><ellipse cx="975.0" cy="140.9" rx="4.0" ry="1.3" fill="#1a1a1a" opacity="0.6"/><ellipse cx="996.2" cy="142.0" rx="4.3" ry="1.4" fill="#666" opacity="0.3"/><ellipse cx="996.2" cy="144.0" rx="4.0" ry="1.3" fill="#1a1a1a" opacity="0.6"/><ellipse cx="1021.8" cy="143.3" rx="4.3" ry="1.4" fill="#666" opacity="0.3"/><ellipse cx="1021.8" cy="145.3" rx="4.0" ry="1.3" fill="#1a1a1a" opacity="0.6"/><ellipse cx="527.4" cy="86.6" rx="4.1" ry="1.4" fill="#666" opacity="0.3"/><ellipse cx="527.4" cy="88.5" rx="3.8" ry="1.2" fill="#1a1a1a" opacity="0.6"/><ellipse cx="550.9" cy="89.9" rx="4.1" ry="1.4" fill="#666" opacity="0.3"/><ellipse cx="550.9" cy="91.8" rx="3.8" ry="1.2" fill="#1a1a1a" opacity="0.6"/><ellipse cx="577.8" cy="93.7" rx="4.1" ry="1.4" fill="#666" opacity="0.3"/><ellipse cx="577.8" cy="95.6" rx="3.8" ry="1.2" fill="#1a1a1a" opacity="0.6"/><ellipse cx="598.0" cy="94.6" rx="4.1" ry="1.4" fill="#666" opacity="0.3"/><ellipse cx="598.0" cy="96.5" rx="3.8" ry="1.2" fill="#1a1a1a" opacity="0.6"/><ellipse cx="621.5" cy="96.7" rx="4.1" ry="1.4" fill="#666" opacity="0.3"/><ellipse cx="621.5" cy="98.6" rx="3.8" ry="1.2" fill="#1a1a1a" opacity="0.6"/><ellipse cx="650.0" cy="100.3" rx="4.1" ry="1.4" fill="#666" opacity="0.3"/><ellipse cx="650.0" cy="102.3" rx="3.8" ry="1.2" fill="#1a1a1a" opacity="0.6"/><ellipse cx="672.4" cy="100.8" rx="4.1" ry="1.4" fill="#666" opacity="0.3"/><ellipse cx="672.4" cy="102.8" rx="3.8" ry="1.2" fill="#1a1a1a" opacity="0.6"/><ellipse cx="695.0" cy="104.0" rx="4.1" ry="1.4" fill="#666" opacity="0.3"/><ellipse cx="695.0" cy="105.9" rx="3.8" ry="1.2" fill="#1a1a1a" opacity="0.6"/><ellipse cx="723.8" cy="104.8" rx="4.1" ry="1.4" fill="#666" opacity="0.3"/><ellipse cx="723.8" cy="106.7" rx="3.8" ry="1.2" fill="#1a1a1a" opacity="0.6"/><ellipse cx="747.3" cy="106.7" rx="4.1" ry="1.4" fill="#666" opacity="0.3"/><ellipse cx="747.3" cy="108.6" rx="3.8" ry="1.2" fill="#1a1a1a" opacity="0.6"/><ellipse cx="768.2" cy="109.6" rx="4.1" ry="1.4" fill="#666" opacity="0.3"/><ellipse cx="768.2" cy="111.5" rx="3.8" ry="1.2" fill="#1a1a1a" opacity="0.6"/><ellipse cx="795.5" cy="112.1" rx="4.1" ry="1.4" fill="#666" opacity="0.3"/><ellipse cx="795.5" cy="114.0" rx="3.8" ry="1.2" fill="#1a1a1a" opacity="0.6"/><ellipse cx="817.9" cy="115.2" rx="4.1" ry="1.4" fill="#666" opacity="0.3"/><ellipse cx="817.9" cy="117.2" rx="3.8" ry="1.2" fill="#1a1a1a" opacity="0.6"/><ellipse cx="840.8" cy="117.8" rx="4.1" ry="1.4" fill="#666" opacity="0.3"/><ellipse cx="840.8" cy="119.7" rx="3.8" ry="1.2" fill="#1a1a1a" opacity="0.6"/><ellipse cx="865.2" cy="119.4" rx="4.1" ry="1.4" fill="#666" opacity="0.3"/><ellipse cx="865.2" cy="121.3" rx="3.8" ry="1.2" fill="#1a1a1a" opacity="0.6"/><ellipse cx="890.4" cy="120.7" rx="4.1" ry="1.4" fill="#666" opacity="0.3"/><ellipse cx="890.4" cy="122.6" rx="3.8" ry="1.2" fill="#1a1a1a" opacity="0.6"/><ellipse cx="916.4" cy="123.7" rx="4.1" ry="1.4" fill="#666" opacity="0.3"/><ellipse cx="916.4" cy="125.6" rx="3.8" ry="1.2" fill="#1a1a1a" opacity="0.6"/><ellipse cx="939.9" cy="125.9" rx="4.1" ry="1.4" fill="#666" opacity="0.3"/><ellipse cx="939.9" cy="127.8" rx="3.8" ry="1.2" fill="#1a1a1a" opacity="0.6"/><ellipse cx="965.2" cy="127.3" rx="4.1" ry="1.4" fill="#666" opacity="0.3"/><ellipse cx="965.2" cy="129.3" rx="3.8" ry="1.2" fill="#1a1a1a" opacity="0.6"/><ellipse cx="987.6" cy="131.0" rx="4.1" ry="1.4" fill="#666" opacity="0.3"/><ellipse cx="987.6" cy="132.9" rx="3.8" ry="1.2" fill="#1a1a1a" opacity="0.6"/><ellipse cx="1014.6" cy="133.0" rx="4.1" ry="1.4" fill="#666" opacity="0.3"/><ellipse cx="1014.6" cy="134.9" rx="3.8" ry="1.2" fill="#1a1a1a" opacity="0.6"/><ellipse cx="1040.2" cy="135.4" rx="4.1" ry="1.4" fill="#666" opacity="0.3"/><ellipse cx="1040.2" cy="137.4" rx="3.8" ry="1.2" fill="#1a1a1a" opacity="0.6"/><ellipse cx="550.4" cy="78.5" rx="3.9" ry="1.3" fill="#666" opacity="0.3"/><ellipse cx="550.4" cy="80.3" rx="3.6" ry="1.2" fill="#1a1a1a" opacity="0.6"/><ellipse cx="573.9" cy="82.5" rx="3.9" ry="1.3" fill="#666" opacity="0.3"/><ellipse cx="573.9" cy="84.3" rx="3.6" ry="1.2" fill="#1a1a1a" opacity="0.6"/><ellipse cx="599.0" cy="83.3" rx="3.9" ry="1.3" fill="#666" opacity="0.3"/><ellipse cx="599.0" cy="85.1" rx="3.6" ry="1.2" fill="#1a1a1a" opacity="0.6"/><ellipse cx="619.6" cy="87.4" rx="3.9" ry="1.3" fill="#666" opacity="0.3"/><ellipse cx="619.6" cy="89.2" rx="3.6" ry="1.2" fill="#1a1a1a" opacity="0.6"/><ellipse cx="643.1" cy="89.9" rx="3.9" ry="1.3" fill="#666" opacity="0.3"/><ellipse cx="643.1" cy="91.7" rx="3.6" ry="1.2" fill="#1a1a1a" opacity="0.6"/><ellipse cx="671.3" cy="89.5" rx="3.9" ry="1.3" fill="#666" opacity="0.3"/><ellipse cx="671.3" cy="91.4" rx="3.6" ry="1.2" fill="#1a1a1a" opacity="0.6"/><ellipse cx="691.5" cy="93.6" rx="3.9" ry="1.3" fill="#666" opacity="0.3"/><ellipse cx="691.5" cy="95.4" rx="3.6" ry="1.2" fill="#1a1a1a" opacity="0.6"/><ellipse cx="715.8" cy="94.0" rx="3.9" ry="1.3" fill="#666" opacity="0.3"/><ellipse cx="715.8" cy="95.8" rx="3.6" ry="1.2" fill="#1a1a1a" opacity="0.6"/><ellipse cx="743.4" cy="97.2" rx="3.9" ry="1.3" fill="#666" opacity="0.3"/><ellipse cx="743.4" cy="99.0" rx="3.6" ry="1.2" fill="#1a1a1a" opacity="0.6"/><ellipse cx="767.2" cy="98.6" rx="3.9" ry="1.3" fill="#666" opacity="0.3"/><ellipse cx="767.2" cy="100.4" rx="3.6" ry="1.2" fill="#1a1a1a" opacity="0.6"/><ellipse cx="789.1" cy="102.5" rx="3.9" ry="1.3" fill="#666" opacity="0.3"/><ellipse cx="789.1" cy="104.4" rx="3.6" ry="1.2" fill="#1a1a1a" opacity="0.6"/><ellipse cx="810.9" cy="103.3" rx="3.9" ry="1.3" fill="#666" opacity="0.3"/><ellipse cx="810.9" cy="105.2" rx="3.6" ry="1.2" fill="#1a1a1a" opacity="0.6"/><ellipse cx="839.0" cy="107.7" rx="3.9" ry="1.3" fill="#666" opacity="0.3"/><ellipse cx="839.0" cy="109.6" rx="3.6" ry="1.2" fill="#1a1a1a" opacity="0.6"/><ellipse cx="864.8" cy="107.6" rx="3.9" ry="1.3" fill="#666" opacity="0.3"/><ellipse cx="864.8" cy="109.4" rx="3.6" ry="1.2" fill="#1a1a1a" opacity="0.6"/><ellipse cx="886.2" cy="111.8" rx="3.9" ry="1.3" fill="#666" opacity="0.3"/><ellipse cx="886.2" cy="113.6" rx="3.6" ry="1.2" fill="#1a1a1a" opacity="0.6"/><ellipse cx="910.3" cy="113.9" rx="3.9" ry="1.3" fill="#666" opacity="0.3"/><ellipse cx="910.3" cy="115.7" rx="3.6" ry="1.2" fill="#1a1a1a" opacity="0.6"/><ellipse cx="932.6" cy="114.3" rx="3.9" ry="1.3" fill="#666" opacity="0.3"/><ellipse cx="932.6" cy="116.1" rx="3.6" ry="1.2" fill="#1a1a1a" opacity="0.6"/><ellipse cx="956.2" cy="116.4" rx="3.9" ry="1.3" fill="#666" opacity="0.3"/><ellipse cx="956.2" cy="118.3" rx="3.6" ry="1.2" fill="#1a1a1a" opacity="0.6"/><ellipse cx="983.0" cy="120.1" rx="3.9" ry="1.3" fill="#666" opacity="0.3"/><ellipse cx="983.0" cy="122.0" rx="3.6" ry="1.2" fill="#1a1a1a" opacity="0.6"/><ellipse cx="1007.2" cy="121.3" rx="3.9" ry="1.3" fill="#666" opacity="0.3"/><ellipse cx="1007.2" cy="123.1" rx="3.6" ry="1.2" fill="#1a1a1a" opacity="0.6"/><ellipse cx="1029.1" cy="123.7" rx="3.9" ry="1.3" fill="#666" opacity="0.3"/><ellipse cx="1029.1" cy="125.6" rx="3.6" ry="1.2" fill="#1a1a1a" opacity="0.6"/><ellipse cx="1057.1" cy="128.4" rx="3.9" ry="1.3" fill="#666" opacity="0.3"/><ellipse cx="1057.1" cy="130.2" rx="3.6" ry="1.2" fill="#1a1a1a" opacity="0.6"/><ellipse cx="1081.8" cy="127.9" rx="3.9" ry="1.3" fill="#666" opacity="0.3"/><ellipse cx="1081.8" cy="129.8" rx="3.6" ry="1.2" fill="#1a1a1a" opacity="0.6"/><ellipse cx="591.9" cy="74.3" rx="3.7" ry="1.2" fill="#666" opacity="0.3"/><ellipse cx="591.9" cy="76.1" rx="3.4" ry="1.1" fill="#1a1a1a" opacity="0.6"/><ellipse cx="618.1" cy="76.1" rx="3.7" ry="1.2" fill="#666" opacity="0.3"/><ellipse cx="618.1" cy="77.8" rx="3.4" ry="1.1" fill="#1a1a1a" opacity="0.6"/><ellipse cx="641.2" cy="77.4" rx="3.7" ry="1.2" fill="#666" opacity="0.3"/><ellipse cx="641.2" cy="79.2" rx="3.4" ry="1.1" fill="#1a1a1a" opacity="0.6"/><ellipse cx="666.3" cy="79.6" rx="3.7" ry="1.2" fill="#666" opacity="0.3"/><ellipse cx="666.3" cy="81.4" rx="3.4" ry="1.1" fill="#1a1a1a" opacity="0.6"/><ellipse cx="690.7" cy="80.7" rx="3.7" ry="1.2" fill="#666" opacity="0.3"/><ellipse cx="690.7" cy="82.4" rx="3.4" ry="1.1" fill="#1a1a1a" opacity="0.6"/><ellipse cx="715.1" cy="85.4" rx="3.7" ry="1.2" fill="#666" opacity="0.3"/><ellipse cx="715.1" cy="87.2" rx="3.4" ry="1.1" fill="#1a1a1a" opacity="0.6"/><ellipse cx="735.9" cy="86.5" rx="3.7" ry="1.2" fill="#666" opacity="0.3"/><ellipse cx="735.9" cy="88.3" rx="3.4" ry="1.1" fill="#1a1a1a" opacity="0.6"/><ellipse cx="763.2" cy="88.7" rx="3.7" ry="1.2" fill="#666" opacity="0.3"/><ellipse cx="763.2" cy="90.4" rx="3.4" ry="1.1" fill="#1a1a1a" opacity="0.6"/><ellipse cx="783.8" cy="90.2" rx="3.7" ry="1.2" fill="#666" opacity="0.3"/><ellipse cx="783.8" cy="92.0" rx="3.4" ry="1.1" fill="#1a1a1a" opacity="0.6"/><ellipse cx="809.6" cy="92.1" rx="3.7" ry="1.2" fill="#666" opacity="0.3"/><ellipse cx="809.6" cy="93.8" rx="3.4" ry="1.1" fill="#1a1a1a" opacity="0.6"/><ellipse cx="835.8" cy="96.7" rx="3.7" ry="1.2" fill="#666" opacity="0.3"/><ellipse cx="835.8" cy="98.5" rx="3.4" ry="1.1" fill="#1a1a1a" opacity="0.6"/><ellipse cx="858.5" cy="99.2" rx="3.7" ry="1.2" fill="#666" opacity="0.3"/><ellipse cx="858.5" cy="100.9" rx="3.4" ry="1.1" fill="#1a1a1a" opacity="0.6"/><ellipse cx="882.0" cy="100.1" rx="3.7" ry="1.2" fill="#666" opacity="0.3"/><ellipse cx="882.0" cy="101.8" rx="3.4" ry="1.1" fill="#1a1a1a" opacity="0.6"/><ellipse cx="905.7" cy="102.7" rx="3.7" ry="1.2" fill="#666" opacity="0.3"/><ellipse cx="905.7" cy="104.4" rx="3.4" ry="1.1" fill="#1a1a1a" opacity="0.6"/><ellipse cx="931.9" cy="105.9" rx="3.7" ry="1.2" fill="#666" opacity="0.3"/><ellipse cx="931.9" cy="107.6" rx="3.4" ry="1.1" fill="#1a1a1a" opacity="0.6"/><ellipse cx="951.4" cy="108.5" rx="3.7" ry="1.2" fill="#666" opacity="0.3"/><ellipse cx="951.4" cy="110.2" rx="3.4" ry="1.1" fill="#1a1a1a" opacity="0.6"/><ellipse cx="978.2" cy="110.3" rx="3.7" ry="1.2" fill="#666" opacity="0.3"/><ellipse cx="978.2" cy="112.1" rx="3.4" ry="1.1" fill="#1a1a1a" opacity="0.6"/><ellipse cx="1002.5" cy="111.5" rx="3.7" ry="1.2" fill="#666" opacity="0.3"/><ellipse cx="1002.5" cy="113.2" rx="3.4" ry="1.1" fill="#1a1a1a" opacity="0.6"/><ellipse cx="1026.9" cy="115.2" rx="3.7" ry="1.2" fill="#666" opacity="0.3"/><ellipse cx="1026.9" cy="117.0" rx="3.4" ry="1.1" fill="#1a1a1a" opacity="0.6"/><ellipse cx="1049.6" cy="117.2" rx="3.7" ry="1.2" fill="#666" opacity="0.3"/><ellipse cx="1049.6" cy="118.9" rx="3.4" ry="1.1" fill="#1a1a1a" opacity="0.6"/><ellipse cx="1073.9" cy="118.4" rx="3.7" ry="1.2" fill="#666" opacity="0.3"/><ellipse cx="1073.9" cy="120.1" rx="3.4" ry="1.1" fill="#1a1a1a" opacity="0.6"/><ellipse cx="1097.5" cy="119.6" rx="3.7" ry="1.2" fill="#666" opacity="0.3"/><ellipse cx="1097.5" cy="121.4" rx="3.4" ry="1.1" fill="#1a1a1a" opacity="0.6"/><ellipse cx="615.8" cy="64.3" rx="3.5" ry="1.2" fill="#666" opacity="0.3"/><ellipse cx="615.8" cy="65.9" rx="3.2" ry="1.1" fill="#1a1a1a" opacity="0.6"/><ellipse cx="637.5" cy="66.2" rx="3.5" ry="1.2" fill="#666" opacity="0.3"/><ellipse cx="637.5" cy="67.9" rx="3.2" ry="1.1" fill="#1a1a1a" opacity="0.6"/><ellipse cx="664.9" cy="69.3" rx="3.5" ry="1.2" fill="#666" opacity="0.3"/><ellipse cx="664.9" cy="71.0" rx="3.2" ry="1.1" fill="#1a1a1a" opacity="0.6"/><ellipse cx="686.1" cy="72.6" rx="3.5" ry="1.2" fill="#666" opacity="0.3"/><ellipse cx="686.1" cy="74.2" rx="3.2" ry="1.1" fill="#1a1a1a" opacity="0.6"/><ellipse cx="712.4" cy="73.1" rx="3.5" ry="1.2" fill="#666" opacity="0.3"/><ellipse cx="712.4" cy="74.7" rx="3.2" ry="1.1" fill="#1a1a1a" opacity="0.6"/><ellipse cx="736.0" cy="76.1" rx="3.5" ry="1.2" fill="#666" opacity="0.3"/><ellipse cx="736.0" cy="77.7" rx="3.2" ry="1.1" fill="#1a1a1a" opacity="0.6"/><ellipse cx="758.9" cy="77.8" rx="3.5" ry="1.2" fill="#666" opacity="0.3"/><ellipse cx="758.9" cy="79.5" rx="3.2" ry="1.1" fill="#1a1a1a" opacity="0.6"/><ellipse cx="785.3" cy="80.9" rx="3.5" ry="1.2" fill="#666" opacity="0.3"/><ellipse cx="785.3" cy="82.5" rx="3.2" ry="1.1" fill="#1a1a1a" opacity="0.6"/><ellipse cx="807.2" cy="83.6" rx="3.5" ry="1.2" fill="#666" opacity="0.3"/><ellipse cx="807.2" cy="85.2" rx="3.2" ry="1.1" fill="#1a1a1a" opacity="0.6"/><ellipse cx="832.5" cy="83.6" rx="3.5" ry="1.2" fill="#666" opacity="0.3"/><ellipse cx="832.5" cy="85.3" rx="3.2" ry="1.1" fill="#1a1a1a" opacity="0.6"/><ellipse cx="854.0" cy="88.1" rx="3.5" ry="1.2" fill="#666" opacity="0.3"/><ellipse cx="854.0" cy="89.7" rx="3.2" ry="1.1" fill="#1a1a1a" opacity="0.6"/><ellipse cx="875.5" cy="89.4" rx="3.5" ry="1.2" fill="#666" opacity="0.3"/><ellipse cx="875.5" cy="91.0" rx="3.2" ry="1.1" fill="#1a1a1a" opacity="0.6"/><ellipse cx="897.9" cy="91.1" rx="3.5" ry="1.2" fill="#666" opacity="0.3"/><ellipse cx="897.9" cy="92.7" rx="3.2" ry="1.1" fill="#1a1a1a" opacity="0.6"/><ellipse cx="923.5" cy="93.1" rx="3.5" ry="1.2" fill="#666" opacity="0.3"/><ellipse cx="923.5" cy="94.7" rx="3.2" ry="1.1" fill="#1a1a1a" opacity="0.6"/><ellipse cx="946.4" cy="97.8" rx="3.5" ry="1.2" fill="#666" opacity="0.3"/><ellipse cx="946.4" cy="99.4" rx="3.2" ry="1.1" fill="#1a1a1a" opacity="0.6"/><ellipse cx="971.8" cy="98.9" rx="3.5" ry="1.2" fill="#666" opacity="0.3"/><ellipse cx="971.8" cy="100.5" rx="3.2" ry="1.1" fill="#1a1a1a" opacity="0.6"/><ellipse cx="998.0" cy="101.4" rx="3.5" ry="1.2" fill="#666" opacity="0.3"/><ellipse cx="998.0" cy="103.0" rx="3.2" ry="1.1" fill="#1a1a1a" opacity="0.6"/><ellipse cx="1021.8" cy="103.9" rx="3.5" ry="1.2" fill="#666" opacity="0.3"/><ellipse cx="1021.8" cy="105.5" rx="3.2" ry="1.1" fill="#1a1a1a" opacity="0.6"/><ellipse cx="1044.3" cy="104.5" rx="3.5" ry="1.2" fill="#666" opacity="0.3"/><ellipse cx="1044.3" cy="106.1" rx="3.2" ry="1.1" fill="#1a1a1a" opacity="0.6"/><ellipse cx="1066.7" cy="108.9" rx="3.5" ry="1.2" fill="#666" opacity="0.3"/><ellipse cx="1066.7" cy="110.5" rx="3.2" ry="1.1" fill="#1a1a1a" opacity="0.6"/><ellipse cx="1087.0" cy="111.7" rx="3.5" ry="1.2" fill="#666" opacity="0.3"/><ellipse cx="1087.0" cy="113.3" rx="3.2" ry="1.1" fill="#1a1a1a" opacity="0.6"/><ellipse cx="1111.4" cy="112.6" rx="3.5" ry="1.2" fill="#666" opacity="0.3"/><ellipse cx="1111.4" cy="114.2" rx="3.2" ry="1.1" fill="#1a1a1a" opacity="0.6"/><ellipse cx="1135.1" cy="115.0" rx="3.5" ry="1.2" fill="#666" opacity="0.3"/><ellipse cx="1135.1" cy="116.6" rx="3.2" ry="1.1" fill="#1a1a1a" opacity="0.6"/><circle cx="789" cy="77" r="0.8" fill="#a0a0a0" opacity="0.5"/><ellipse cx="708" cy="137" rx="2.9" ry="1.2" fill="#5e5e5e" opacity="0.45"/><circle cx="740" cy="101" r="0.7" fill="#a0a0a0" opacity="0.5"/><ellipse cx="439" cy="103" rx="4.3" ry="1.0" fill="#5e5e5e" opacity="0.45"/><ellipse cx="1062" cy="116" rx="5.0" ry="1.4" fill="#5e5e5e" opacity="0.45"/><ellipse cx="275" cy="151" rx="3.4" ry="1.4" fill="#5e5e5e" opacity="0.45"/><circle cx="438" cy="135" r="1.0" fill="#a0a0a0" opacity="0.5"/><circle cx="652" cy="181" r="0.9" fill="#a0a0a0" opacity="0.5"/><ellipse cx="315" cy="144" rx="2.6" ry="0.8" fill="#5e5e5e" opacity="0.45"/><ellipse cx="709" cy="79" rx="4.0" ry="1.1" fill="#5e5e5e" opacity="0.45"/><ellipse cx="455" cy="138" rx="4.3" ry="1.1" fill="#5e5e5e" opacity="0.45"/><ellipse cx="1115" cy="107" rx="2.3" ry="1.3" fill="#5e5e5e" opacity="0.45"/><ellipse cx="954" cy="126" rx="2.8" ry="1.2" fill="#5e5e5e" opacity="0.45"/><circle cx="744" cy="140" r="1.0" fill="#a0a0a0" opacity="0.5"/><circle cx="386" cy="124" r="1.1" fill="#a0a0a0" opacity="0.5"/><ellipse cx="1044" cy="86" rx="2.8" ry="1.1" fill="#5e5e5e" opacity="0.45"/><circle cx="800" cy="83" r="0.6" fill="#a0a0a0" opacity="0.5"/><circle cx="288" cy="146" r="0.9" fill="#a0a0a0" opacity="0.5"/><ellipse cx="561" cy="124" rx="3.0" ry="1.2" fill="#5e5e5e" opacity="0.45"/><ellipse cx="1006" cy="88" rx="4.4" ry="1.2" fill="#5e5e5e" opacity="0.45"/><ellipse cx="939" cy="96" rx="2.8" ry="1.3" fill="#5e5e5e" opacity="0.45"/><circle cx="557" cy="141" r="0.8" fill="#a0a0a0" opacity="0.5"/><circle cx="729" cy="158" r="0.8" fill="#a0a0a0" opacity="0.5"/><circle cx="558" cy="86" r="0.6" fill="#a0a0a0" opacity="0.5"/><ellipse cx="284" cy="143" rx="4.1" ry="1.0" fill="#5e5e5e" opacity="0.45"/><ellipse cx="946" cy="85" rx="4.0" ry="0.8" fill="#5e5e5e" opacity="0.45"/><circle cx="495" cy="148" r="0.7" fill="#a0a0a0" opacity="0.5"/><circle cx="341" cy="132" r="0.8" fill="#a0a0a0" opacity="0.5"/><circle cx="317" cy="147" r="1.1" fill="#a0a0a0" opacity="0.5"/><ellipse cx="1103" cy="115" rx="4.4" ry="1.0" fill="#5e5e5e" opacity="0.45"/><circle cx="508" cy="120" r="1.0" fill="#a0a0a0" opacity="0.5"/><ellipse cx="442" cy="124" rx="3.1" ry="1.0" fill="#5e5e5e" opacity="0.45"/><circle cx="575" cy="93" r="1.0" fill="#a0a0a0" opacity="0.5"/><circle cx="721" cy="168" r="0.7" fill="#a0a0a0" opacity="0.5"/><ellipse cx="930" cy="150" rx="2.1" ry="1.1" fill="#5e5e5e" opacity="0.45"/><circle cx="725" cy="135" r="0.9" fill="#a0a0a0" opacity="0.5"/><circle cx="973" cy="86" r="1.0" fill="#a0a0a0" opacity="0.5"/><circle cx="285" cy="130" r="1.0" fill="#a0a0a0" opacity="0.5"/><ellipse cx="286" cy="145" rx="4.2" ry="1.2" fill="#5e5e5e" opacity="0.45"/><circle cx="439" cy="115" r="0.9" fill="#a0a0a0" opacity="0.5"/><ellipse cx="935" cy="110" rx="4.9" ry="1.2" fill="#5e5e5e" opacity="0.45"/><circle cx="676" cy="128" r="1.0" fill="#a0a0a0" opacity="0.5"/><circle cx="1079" cy="101" r="0.9" fill="#a0a0a0" opacity="0.5"/><circle cx="1020" cy="127" r="1.0" fill="#a0a0a0" opacity="0.5"/><circle cx="1120" cy="105" r="1.0" fill="#a0a0a0" opacity="0.5"/><ellipse cx="971" cy="110" rx="2.4" ry="1.2" fill="#5e5e5e" opacity="0.45"/><ellipse cx="564" cy="92" rx="3.3" ry="1.0" fill="#5e5e5e" opacity="0.45"/><ellipse cx="1131" cy="95" rx="2.3" ry="1.2" fill="#5e5e5e" opacity="0.45"/><ellipse cx="946" cy="93" rx="3.4" ry="1.2" fill="#5e5e5e" opacity="0.45"/><ellipse cx="1073" cy="87" rx="2.6" ry="0.9" fill="#5e5e5e" opacity="0.45"/><circle cx="430" cy="148" r="0.7" fill="#a0a0a0" opacity="0.5"/><ellipse cx="382" cy="126" rx="4.3" ry="1.0" fill="#5e5e5e" opacity="0.45"/><ellipse cx="729" cy="166" rx="2.8" ry="1.3" fill="#5e5e5e" opacity="0.45"/><circle cx="1078" cy="99" r="1.1" fill="#a0a0a0" opacity="0.5"/><ellipse cx="666" cy="89" rx="4.8" ry="1.3" fill="#5e5e5e" opacity="0.45"/><circle cx="573" cy="128" r="0.7" fill="#a0a0a0" opacity="0.5"/><ellipse cx="833" cy="99" rx="3.4" ry="1.0" fill="#5e5e5e" opacity="0.45"/><circle cx="966" cy="131" r="0.7" fill="#a0a0a0" opacity="0.5"/><ellipse cx="355" cy="130" rx="4.6" ry="1.1" fill="#5e5e5e" opacity="0.45"/><ellipse cx="813" cy="187" rx="3.6" ry="0.9" fill="#5e5e5e" opacity="0.45"/><circle cx="941" cy="79" r="1.0" fill="#a0a0a0" opacity="0.5"/><ellipse cx="990" cy="88" rx="4.1" ry="0.9" fill="#5e5e5e" opacity="0.45"/><circle cx="663" cy="119" r="0.9" fill="#a0a0a0" opacity="0.5"/><circle cx="1024" cy="100" r="0.8" fill="#a0a0a0" opacity="0.5"/><circle cx="1081" cy="90" r="0.7" fill="#a0a0a0" opacity="0.5"/><ellipse cx="724" cy="130" rx="4.5" ry="1.0" fill="#5e5e5e" opacity="0.45"/><ellipse cx="502" cy="94" rx="3.4" ry="1.2" fill="#5e5e5e" opacity="0.45"/><ellipse cx="549" cy="145" rx="3.2" ry="1.1" fill="#5e5e5e" opacity="0.45"/><circle cx="1128" cy="107" r="0.6" fill="#a0a0a0" opacity="0.5"/><ellipse cx="565" cy="147" rx="3.7" ry="1.1" fill="#5e5e5e" opacity="0.45"/><circle cx="968" cy="96" r="0.7" fill="#a0a0a0" opacity="0.5"/><ellipse cx="564" cy="130" rx="3.0" ry="1.0" fill="#5e5e5e" opacity="0.45"/><ellipse cx="842" cy="101" rx="4.2" ry="1.0" fill="#5e5e5e" opacity="0.45"/><circle cx="1108" cy="105" r="0.8" fill="#a0a0a0" opacity="0.5"/><ellipse cx="995" cy="89" rx="2.3" ry="1.2" fill="#5e5e5e" opacity="0.45"/><ellipse cx="881" cy="94" rx="4.5" ry="1.2" fill="#5e5e5e" opacity="0.45"/><ellipse cx="291" cy="133" rx="2.4" ry="1.0" fill="#5e5e5e" opacity="0.45"/><ellipse cx="274" cy="152" rx="3.5" ry="1.2" fill="#5e5e5e" opacity="0.45"/><ellipse cx="937" cy="144" rx="3.0" ry="1.0" fill="#5e5e5e" opacity="0.45"/><circle cx="588" cy="146" r="1.0" fill="#a0a0a0" opacity="0.5"/><ellipse cx="836" cy="140" rx="3.0" ry="1.0" fill="#5e5e5e" opacity="0.45"/><ellipse cx="826" cy="84" rx="3.5" ry="1.3" fill="#5e5e5e" opacity="0.45"/><ellipse cx="993" cy="120" rx="4.3" ry="1.3" fill="#5e5e5e" opacity="0.45"/><circle cx="729" cy="109" r="0.7" fill="#a0a0a0" opacity="0.5"/><circle cx="886" cy="169" r="1.0" fill="#a0a0a0" opacity="0.5"/><circle cx="1003" cy="95" r="0.9" fill="#a0a0a0" opacity="0.5"/><ellipse cx="394" cy="114" rx="3.7" ry="1.2" fill="#5e5e5e" opacity="0.45"/><ellipse cx="519" cy="166" rx="3.4" ry="0.9" fill="#5e5e5e" opacity="0.45"/><circle cx="1135" cy="98" r="0.9" fill="#a0a0a0" opacity="0.5"/><ellipse cx="740" cy="136" rx="4.7" ry="1.4" fill="#5e5e5e" opacity="0.45"/><ellipse cx="986" cy="121" rx="4.5" ry="1.0" fill="#5e5e5e" opacity="0.45"/><circle cx="1062" cy="95" r="1.0" fill="#a0a0a0" opacity="0.5"/><ellipse cx="382" cy="139" rx="2.1" ry="0.9" fill="#5e5e5e" opacity="0.45"/><circle cx="1148" cy="105" r="0.8" fill="#a0a0a0" opacity="0.5"/><ellipse cx="846" cy="152" rx="3.8" ry="1.3" fill="#5e5e5e" opacity="0.45"/><ellipse cx="221" cy="148" rx="2.4" ry="1.0" fill="#5e5e5e" opacity="0.45"/><circle cx="749" cy="88" r="0.7" fill="#a0a0a0" opacity="0.5"/><circle cx="747" cy="108" r="0.6" fill="#a0a0a0" opacity="0.5"/><circle cx="846" cy="90" r="0.9" fill="#a0a0a0" opacity="0.5"/><circle cx="654" cy="111" r="0.9" fill="#a0a0a0" opacity="0.5"/><ellipse cx="929" cy="139" rx="5.0" ry="1.3" fill="#5e5e5e" opacity="0.45"/><ellipse cx="1022" cy="105" rx="3.7" ry="1.3" fill="#5e5e5e" opacity="0.45"/><ellipse cx="707" cy="128" rx="4.7" ry="1.0" fill="#5e5e5e" opacity="0.45"/><circle cx="257" cy="147" r="1.0" fill="#a0a0a0" opacity="0.5"/><ellipse cx="776" cy="162" rx="3.8" ry="0.8" fill="#5e5e5e" opacity="0.45"/><circle cx="324" cy="137" r="0.8" fill="#a0a0a0" opacity="0.5"/><circle cx="255" cy="147" r="0.7" fill="#a0a0a0" opacity="0.5"/><ellipse cx="498" cy="121" rx="2.2" ry="1.3" fill="#5e5e5e" opacity="0.45"/><circle cx="1128" cy="105" r="0.8" fill="#a0a0a0" opacity="0.5"/><circle cx="974" cy="97" r="0.9" fill="#a0a0a0" opacity="0.5"/><circle cx="1068" cy="90" r="0.7" fill="#a0a0a0" opacity="0.5"/><ellipse cx="718" cy="182" rx="2.7" ry="1.0" fill="#5e5e5e" opacity="0.45"/><circle cx="515" cy="90" r="1.0" fill="#a0a0a0" opacity="0.5"/><circle cx="584" cy="109" r="0.6" fill="#a0a0a0" opacity="0.5"/><ellipse cx="235" cy="150" rx="3.5" ry="1.4" fill="#5e5e5e" opacity="0.45"/><ellipse cx="1138" cy="103" rx="2.9" ry="1.4" fill="#5e5e5e" opacity="0.45"/><circle cx="1061" cy="93" r="0.8" fill="#a0a0a0" opacity="0.5"/><circle cx="656" cy="82" r="1.1" fill="#a0a0a0" opacity="0.5"/><ellipse cx="398" cy="143" rx="4.6" ry="0.8" fill="#5e5e5e" opacity="0.45"/><ellipse cx="306" cy="147" rx="4.7" ry="1.3" fill="#5e5e5e" opacity="0.45"/><circle cx="886" cy="89" r="1.1" fill="#a0a0a0" opacity="0.5"/><ellipse cx="630" cy="73" rx="2.9" ry="1.2" fill="#5e5e5e" opacity="0.45"/><ellipse cx="393" cy="119" rx="4.0" ry="1.3" fill="#5e5e5e" opacity="0.45"/><circle cx="561" cy="142" r="0.9" fill="#a0a0a0" opacity="0.5"/><circle cx="424" cy="123" r="0.9" fill="#a0a0a0" opacity="0.5"/><ellipse cx="469" cy="142" rx="4.9" ry="1.1" fill="#5e5e5e" opacity="0.45"/><ellipse cx="710" cy="129" rx="3.8" ry="1.0" fill="#5e5e5e" opacity="0.45"/><ellipse cx="445" cy="153" rx="2.9" ry="1.3" fill="#5e5e5e" opacity="0.45"/><circle cx="440" cy="118" r="0.7" fill="#a0a0a0" opacity="0.5"/><ellipse cx="1062" cy="126" rx="3.4" ry="1.3" fill="#5e5e5e" opacity="0.45"/><ellipse cx="572" cy="170" rx="2.5" ry="1.1" fill="#5e5e5e" opacity="0.45"/><circle cx="821" cy="113" r="1.0" fill="#a0a0a0" opacity="0.5"/><circle cx="698" cy="125" r="0.9" fill="#a0a0a0" opacity="0.5"/><ellipse cx="702" cy="181" rx="4.3" ry="0.9" fill="#5e5e5e" opacity="0.45"/><ellipse cx="786" cy="99" rx="4.3" ry="1.3" fill="#5e5e5e" opacity="0.45"/><ellipse cx="961" cy="98" rx="2.7" ry="1.1" fill="#5e5e5e" opacity="0.45"/><circle cx="682" cy="66" r="1.0" fill="#a0a0a0" opacity="0.5"/><ellipse cx="752" cy="175" rx="2.5" ry="0.8" fill="#5e5e5e" opacity="0.45"/><ellipse cx="679" cy="116" rx="2.8" ry="1.3" fill="#5e5e5e" opacity="0.45"/><circle cx="274" cy="151" r="0.9" fill="#a0a0a0" opacity="0.5"/><ellipse cx="961" cy="98" rx="2.9" ry="0.8" fill="#5e5e5e" opacity="0.45"/><circle cx="505" cy="139" r="0.7" fill="#a0a0a0" opacity="0.5"/><circle cx="767" cy="79" r="0.7" fill="#a0a0a0" opacity="0.5"/><circle cx="448" cy="109" r="1.0" fill="#a0a0a0" opacity="0.5"/><ellipse cx="956" cy="85" rx="3.1" ry="0.9" fill="#5e5e5e" opacity="0.45"/><ellipse cx="1132" cy="95" rx="4.3" ry="1.4" fill="#5e5e5e" opacity="0.45"/><circle cx="343" cy="136" r="0.6" fill="#a0a0a0" opacity="0.5"/><ellipse cx="435" cy="159" rx="3.2" ry="1.0" fill="#5e5e5e" opacity="0.45"/><ellipse cx="610" cy="75" rx="5.0" ry="1.3" fill="#5e5e5e" opacity="0.45"/><ellipse cx="906" cy="97" rx="3.7" ry="0.9" fill="#5e5e5e" opacity="0.45"/><ellipse cx="646" cy="174" rx="3.0" ry="1.4" fill="#5e5e5e" opacity="0.45"/><ellipse cx="788" cy="74" rx="3.9" ry="0.8" fill="#5e5e5e" opacity="0.45"/><circle cx="533" cy="146" r="0.9" fill="#a0a0a0" opacity="0.5"/><ellipse cx="1051" cy="105" rx="4.5" ry="1.0" fill="#5e5e5e" opacity="0.45"/><ellipse cx="951" cy="96" rx="2.6" ry="1.1" fill="#5e5e5e" opacity="0.45"/><ellipse cx="361" cy="124" rx="3.4" ry="1.0" fill="#5e5e5e" opacity="0.45"/><circle cx="632" cy="181" r="1.0" fill="#a0a0a0" opacity="0.5"/><ellipse cx="400" cy="130" rx="4.1" ry="1.0" fill="#5e5e5e" opacity="0.45"/><ellipse cx="467" cy="95" rx="2.8" ry="1.0" fill="#5e5e5e" opacity="0.45"/><ellipse cx="1087" cy="111" rx="3.1" ry="0.9" fill="#5e5e5e" opacity="0.45"/><circle cx="1099" cy="101" r="1.0" fill="#a0a0a0" opacity="0.5"/><ellipse cx="1071" cy="87" rx="3.2" ry="0.8" fill="#5e5e5e" opacity="0.45"/><circle cx="1048" cy="99" r="0.9" fill="#a0a0a0" opacity="0.5"/><ellipse cx="257" cy="142" rx="2.1" ry="0.9" fill="#5e5e5e" opacity="0.45"/><ellipse cx="774" cy="72" rx="3.3" ry="1.1" fill="#5e5e5e" opacity="0.45"/><ellipse cx="335" cy="147" rx="4.2" ry="1.2" fill="#5e5e5e" opacity="0.45"/><ellipse cx="346" cy="125" rx="4.1" ry="1.0" fill="#5e5e5e" opacity="0.45"/><ellipse cx="574" cy="163" rx="2.9" ry="1.0" fill="#5e5e5e" opacity="0.45"/><ellipse cx="411" cy="109" rx="3.9" ry="1.1" fill="#5e5e5e" opacity="0.45"/><ellipse cx="977" cy="146" rx="4.0" ry="1.4" fill="#5e5e5e" opacity="0.45"/><circle cx="411" cy="146" r="1.1" fill="#a0a0a0" opacity="0.5"/><circle cx="1034" cy="96" r="0.6" fill="#a0a0a0" opacity="0.5"/><ellipse cx="613" cy="111" rx="3.2" ry="1.0" fill="#5e5e5e" opacity="0.45"/><ellipse cx="680" cy="96" rx="3.2" ry="1.1" fill="#5e5e5e" opacity="0.45"/><ellipse cx="364" cy="145" rx="2.3" ry="1.0" fill="#5e5e5e" opacity="0.45"/><circle cx="608" cy="84" r="1.0" fill="#a0a0a0" opacity="0.5"/><ellipse cx="733" cy="152" rx="3.2" ry="1.0" fill="#5e5e5e" opacity="0.45"/><ellipse cx="265" cy="141" rx="3.5" ry="1.2" fill="#5e5e5e" opacity="0.45"/><ellipse cx="653" cy="101" rx="2.1" ry="1.0" fill="#5e5e5e" opacity="0.45"/><ellipse cx="1057" cy="109" rx="4.0" ry="0.9" fill="#5e5e5e" opacity="0.45"/><circle cx="653" cy="136" r="0.8" fill="#a0a0a0" opacity="0.5"/><circle cx="755" cy="184" r="0.9" fill="#a0a0a0" opacity="0.5"/><ellipse cx="798" cy="120" rx="2.8" ry="1.3" fill="#5e5e5e" opacity="0.45"/><circle cx="1045" cy="102" r="0.6" fill="#a0a0a0" opacity="0.5"/><ellipse cx="335" cy="139" rx="3.1" ry="1.4" fill="#5e5e5e" opacity="0.45"/><ellipse cx="348" cy="125" rx="4.0" ry="0.9" fill="#5e5e5e" opacity="0.45"/><ellipse cx="724" cy="113" rx="3.5" ry="1.2" fill="#5e5e5e" opacity="0.45"/><circle cx="728" cy="142" r="1.0" fill="#a0a0a0" opacity="0.5"/><ellipse cx="1130" cy="99" rx="4.7" ry="1.0" fill="#5e5e5e" opacity="0.45"/><circle cx="889" cy="141" r="1.1" fill="#a0a0a0" opacity="0.5"/><circle cx="992" cy="93" r="0.8" fill="#a0a0a0" opacity="0.5"/><ellipse cx="743" cy="112" rx="4.2" ry="1.1" fill="#5e5e5e" opacity="0.45"/><ellipse cx="431" cy="118" rx="2.5" ry="1.1" fill="#5e5e5e" opacity="0.45"/><ellipse cx="325" cy="123" rx="2.3" ry="1.2" fill="#5e5e5e" opacity="0.45"/><circle cx="313" cy="138" r="0.8" fill="#a0a0a0" opacity="0.5"/><circle cx="360" cy="154" r="0.6" fill="#a0a0a0" opacity="0.5"/><circle cx="447" cy="133" r="0.8" fill="#a0a0a0" opacity="0.5"/><circle cx="889" cy="100" r="0.8" fill="#a0a0a0" opacity="0.5"/><circle cx="524" cy="151" r="1.0" fill="#a0a0a0" opacity="0.5"/><circle cx="747" cy="119" r="0.9" fill="#a0a0a0" opacity="0.5"/><ellipse cx="999" cy="131" rx="3.1" ry="1.2" fill="#5e5e5e" opacity="0.45"/><ellipse cx="426" cy="115" rx="3.8" ry="1.4" fill="#5e5e5e" opacity="0.45"/><circle cx="1132" cy="97" r="0.8" fill="#a0a0a0" opacity="0.5"/><circle cx="808" cy="118" r="1.1" fill="#a0a0a0" opacity="0.5"/><ellipse cx="252" cy="147" rx="2.1" ry="1.0" fill="#5e5e5e" opacity="0.45"/><ellipse cx="903" cy="165" rx="3.0" ry="0.8" fill="#5e5e5e" opacity="0.45"/><ellipse cx="723" cy="124" rx="2.9" ry="1.3" fill="#5e5e5e" opacity="0.45"/><ellipse cx="1006" cy="100" rx="3.9" ry="1.3" fill="#5e5e5e" opacity="0.45"/><circle cx="1142" cy="102" r="0.9" fill="#a0a0a0" opacity="0.5"/><ellipse cx="969" cy="92" rx="2.3" ry="1.4" fill="#5e5e5e" opacity="0.45"/><ellipse cx="445" cy="132" rx="3.0" ry="0.8" fill="#5e5e5e" opacity="0.45"/><circle cx="745" cy="84" r="0.7" fill="#a0a0a0" opacity="0.5"/><ellipse cx="422" cy="134" rx="2.8" ry="0.8" fill="#5e5e5e" opacity="0.45"/><ellipse cx="266" cy="151" rx="2.2" ry="0.9" fill="#5e5e5e" opacity="0.45"/><ellipse cx="667" cy="184" rx="4.6" ry="1.1" fill="#5e5e5e" opacity="0.45"/><ellipse cx="601" cy="158" rx="2.2" ry="1.1" fill="#5e5e5e" opacity="0.45"/><ellipse cx="832" cy="142" rx="4.8" ry="1.3" fill="#5e5e5e" opacity="0.45"/><circle cx="628" cy="162" r="0.7" fill="#a0a0a0" opacity="0.5"/><ellipse cx="231" cy="145" rx="2.2" ry="1.0" fill="#5e5e5e" opacity="0.45"/><circle cx="925" cy="104" r="0.6" fill="#a0a0a0" opacity="0.5"/><ellipse cx="406" cy="161" rx="3.6" ry="1.3" fill="#5e5e5e" opacity="0.45"/><ellipse cx="962" cy="133" rx="4.4" ry="1.3" fill="#5e5e5e" opacity="0.45"/><ellipse cx="938" cy="156" rx="4.9" ry="1.0" fill="#5e5e5e" opacity="0.45"/><circle cx="879" cy="100" r="0.6" fill="#a0a0a0" opacity="0.5"/><ellipse cx="756" cy="96" rx="3.1" ry="1.2" fill="#5e5e5e" opacity="0.45"/><circle cx="979" cy="106" r="0.8" fill="#a0a0a0" opacity="0.5"/><ellipse cx="472" cy="162" rx="2.3" ry="1.0" fill="#5e5e5e" opacity="0.45"/><circle cx="913" cy="96" r="0.9" fill="#a0a0a0" opacity="0.5"/><ellipse cx="855" cy="93" rx="2.4" ry="1.0" fill="#5e5e5e" opacity="0.45"/><circle cx="616" cy="67" r="0.8" fill="#a0a0a0" opacity="0.5"/><circle cx="512" cy="132" r="0.7" fill="#a0a0a0" opacity="0.5"/><circle cx="1046" cy="99" r="0.7" fill="#a0a0a0" opacity="0.5"/><circle cx="1148" cy="104" r="0.7" fill="#a0a0a0" opacity="0.5"/><ellipse cx="595" cy="146" rx="2.8" ry="1.2" fill="#5e5e5e" opacity="0.45"/><ellipse cx="1110" cy="99" rx="3.1" ry="1.4" fill="#5e5e5e" opacity="0.45"/><ellipse cx="346" cy="144" rx="3.9" ry="0.9" fill="#5e5e5e" opacity="0.45"/><circle cx="794" cy="179" r="0.9" fill="#a0a0a0" opacity="0.5"/><ellipse cx="687" cy="132" rx="4.5" ry="1.2" fill="#5e5e5e" opacity="0.45"/><ellipse cx="638" cy="142" rx="3.2" ry="0.9" fill="#5e5e5e" opacity="0.45"/><circle cx="779" cy="140" r="0.6" fill="#a0a0a0" opacity="0.5"/><circle cx="804" cy="124" r="0.9" fill="#a0a0a0" opacity="0.5"/><ellipse cx="1095" cy="95" rx="5.0" ry="1.2" fill="#5e5e5e" opacity="0.45"/><circle cx="504" cy="149" r="0.8" fill="#a0a0a0" opacity="0.5"/><circle cx="1033" cy="90" r="0.8" fill="#a0a0a0" opacity="0.5"/><circle cx="429" cy="156" r="1.1" fill="#a0a0a0" opacity="0.5"/><circle cx="997" cy="131" r="1.1" fill="#a0a0a0" opacity="0.5"/><circle cx="267" cy="150" r="0.7" fill="#a0a0a0" opacity="0.5"/><circle cx="976" cy="112" r="1.0" fill="#a0a0a0" opacity="0.5"/><circle cx="392" cy="125" r="0.6" fill="#a0a0a0" opacity="0.5"/><ellipse cx="735" cy="163" rx="2.7" ry="1.3" fill="#5e5e5e" opacity="0.45"/><circle cx="1022" cy="125" r="1.1" fill="#a0a0a0" opacity="0.5"/><ellipse cx="966" cy="92" rx="2.3" ry="0.8" fill="#5e5e5e" opacity="0.45"/><circle cx="535" cy="161" r="0.7" fill="#a0a0a0" opacity="0.5"/><circle cx="379" cy="131" r="0.9" fill="#a0a0a0" opacity="0.5"/><circle cx="1066" cy="89" r="0.7" fill="#a0a0a0" opacity="0.5"/><circle cx="806" cy="175" r="0.7" fill="#a0a0a0" opacity="0.5"/><ellipse cx="843" cy="120" rx="3.0" ry="1.0" fill="#5e5e5e" opacity="0.45"/><circle cx="806" cy="104" r="0.9" fill="#a0a0a0" opacity="0.5"/><circle cx="378" cy="118" r="0.8" fill="#a0a0a0" opacity="0.5"/><circle cx="328" cy="125" r="0.9" fill="#a0a0a0" opacity="0.5"/><circle cx="546" cy="98" r="0.9" fill="#a0a0a0" opacity="0.5"/><ellipse cx="908" cy="109" rx="3.2" ry="0.9" fill="#5e5e5e" opacity="0.45"/><circle cx="808" cy="121" r="0.8" fill="#a0a0a0" opacity="0.5"/><circle cx="641" cy="123" r="0.8" fill="#a0a0a0" opacity="0.5"/><circle cx="877" cy="99" r="0.7" fill="#a0a0a0" opacity="0.5"/><circle cx="1038" cy="98" r="0.9" fill="#a0a0a0" opacity="0.5"/><ellipse cx="639" cy="174" rx="4.2" ry="1.2" fill="#5e5e5e" opacity="0.45"/><ellipse cx="633" cy="70" rx="2.8" ry="1.1" fill="#5e5e5e" opacity="0.45"/><circle cx="1117" cy="97" r="0.9" fill="#a0a0a0" opacity="0.5"/><ellipse cx="439" cy="127" rx="4.7" ry="1.0" fill="#5e5e5e" opacity="0.45"/><circle cx="607" cy="105" r="1.0" fill="#a0a0a0" opacity="0.5"/><ellipse cx="769" cy="136" rx="4.7" ry="0.9" fill="#5e5e5e" opacity="0.45"/><circle cx="552" cy="114" r="0.9" fill="#a0a0a0" opacity="0.5"/><circle cx="533" cy="164" r="0.6" fill="#a0a0a0" opacity="0.5"/><ellipse cx="810" cy="126" rx="3.4" ry="1.0" fill="#5e5e5e" opacity="0.45"/><circle cx="846" cy="138" r="1.1" fill="#a0a0a0" opacity="0.5"/><circle cx="582" cy="160" r="1.0" fill="#a0a0a0" opacity="0.5"/><ellipse cx="269" cy="141" rx="4.0" ry="0.9" fill="#5e5e5e" opacity="0.45"/><ellipse cx="1150" cy="104" rx="2.4" ry="1.0" fill="#5e5e5e" opacity="0.45"/><ellipse cx="913" cy="85" rx="3.9" ry="1.2" fill="#5e5e5e" opacity="0.45"/><circle cx="914" cy="99" r="1.0" fill="#a0a0a0" opacity="0.5"/><ellipse cx="946" cy="89" rx="2.0" ry="1.3" fill="#5e5e5e" opacity="0.45"/><ellipse cx="1107" cy="113" rx="3.1" ry="1.1" fill="#5e5e5e" opacity="0.45"/><circle cx="715" cy="77" r="0.8" fill="#a0a0a0" opacity="0.5"/><circle cx="689" cy="78" r="0.7" fill="#a0a0a0" opacity="0.5"/><ellipse cx="289" cy="141" rx="4.3" ry="0.9" fill="#5e5e5e" opacity="0.45"/><ellipse cx="600" cy="74" rx="3.4" ry="1.1" fill="#5e5e5e" opacity="0.45"/><ellipse cx="644" cy="164" rx="4.6" ry="0.9" fill="#5e5e5e" opacity="0.45"/><ellipse cx="1132" cy="103" rx="3.8" ry="1.3" fill="#5e5e5e" opacity="0.45"/><ellipse cx="1125" cy="100" rx="2.5" ry="1.3" fill="#5e5e5e" opacity="0.45"/><ellipse cx="906" cy="140" rx="3.6" ry="0.8" fill="#5e5e5e" opacity="0.45"/><circle cx="310" cy="134" r="0.9" fill="#a0a0a0" opacity="0.5"/><ellipse cx="1015" cy="86" rx="2.2" ry="1.0" fill="#5e5e5e" opacity="0.45"/><ellipse cx="312" cy="154" rx="3.5" ry="1.2" fill="#5e5e5e" opacity="0.45"/><circle cx="1052" cy="127" r="0.9" fill="#a0a0a0" opacity="0.5"/><ellipse cx="1068" cy="101" rx="4.2" ry="1.0" fill="#5e5e5e" opacity="0.45"/><ellipse cx="556" cy="119" rx="3.1" ry="1.1" fill="#5e5e5e" opacity="0.45"/><circle cx="636" cy="68" r="0.6" fill="#a0a0a0" opacity="0.5"/><ellipse cx="709" cy="131" rx="2.7" ry="0.9" fill="#5e5e5e" opacity="0.45"/><ellipse cx="560" cy="108" rx="2.7" ry="1.2" fill="#5e5e5e" opacity="0.45"/><ellipse cx="670" cy="63" rx="4.9" ry="0.8" fill="#5e5e5e" opacity="0.45"/><ellipse cx="772" cy="188" rx="3.8" ry="1.0" fill="#5e5e5e" opacity="0.45"/><circle cx="493" cy="139" r="0.8" fill="#a0a0a0" opacity="0.5"/><circle cx="680" cy="126" r="0.6" fill="#a0a0a0" opacity="0.5"/><ellipse cx="294" cy="134" rx="4.4" ry="1.1" fill="#5e5e5e" opacity="0.45"/><ellipse cx="1026" cy="105" rx="4.0" ry="0.9" fill="#5e5e5e" opacity="0.45"/><ellipse cx="1145" cy="105" rx="3.0" ry="1.3" fill="#5e5e5e" opacity="0.45"/><ellipse cx="958" cy="127" rx="4.3" ry="0.8" fill="#5e5e5e" opacity="0.45"/><circle cx="802" cy="137" r="0.9" fill="#a0a0a0" opacity="0.5"/><circle cx="226" cy="149" r="0.9" fill="#a0a0a0" opacity="0.5"/><circle cx="909" cy="114" r="1.1" fill="#a0a0a0" opacity="0.5"/><circle cx="1080" cy="89" r="0.8" fill="#a0a0a0" opacity="0.5"/><ellipse cx="923" cy="109" rx="3.3" ry="0.9" fill="#5e5e5e" opacity="0.45"/><ellipse cx="511" cy="149" rx="2.3" ry="1.3" fill="#5e5e5e" opacity="0.45"/><ellipse cx="841" cy="133" rx="2.4" ry="1.0" fill="#5e5e5e" opacity="0.45"/><circle cx="1116" cy="103" r="0.7" fill="#a0a0a0" opacity="0.5"/><circle cx="601" cy="128" r="0.7" fill="#a0a0a0" opacity="0.5"/><ellipse cx="1039" cy="107" rx="3.3" ry="1.0" fill="#5e5e5e" opacity="0.45"/><ellipse cx="849" cy="172" rx="4.1" ry="1.0" fill="#5e5e5e" opacity="0.45"/><circle cx="949" cy="88" r="0.7" fill="#a0a0a0" opacity="0.5"/><ellipse cx="764" cy="93" rx="2.5" ry="1.0" fill="#5e5e5e" opacity="0.45"/><ellipse cx="770" cy="133" rx="3.7" ry="1.3" fill="#5e5e5e" opacity="0.45"/><ellipse cx="547" cy="135" rx="4.9" ry="1.0" fill="#5e5e5e" opacity="0.45"/><ellipse cx="871" cy="99" rx="4.2" ry="1.1" fill="#5e5e5e" opacity="0.45"/><circle cx="450" cy="102" r="0.8" fill="#a0a0a0" opacity="0.5"/><circle cx="889" cy="117" r="0.9" fill="#a0a0a0" opacity="0.5"/><ellipse cx="1137" cy="107" rx="3.5" ry="0.9" fill="#5e5e5e" opacity="0.45"/><ellipse cx="924" cy="86" rx="4.5" ry="0.8" fill="#5e5e5e" opacity="0.45"/><circle cx="872" cy="132" r="0.8" fill="#a0a0a0" opacity="0.5"/><circle cx="350" cy="157" r="1.0" fill="#a0a0a0" opacity="0.5"/><ellipse cx="298" cy="149" rx="2.6" ry="1.1" fill="#5e5e5e" opacity="0.45"/><circle cx="787" cy="84" r="0.9" fill="#a0a0a0" opacity="0.5"/><circle cx="1064" cy="123" r="0.8" fill="#a0a0a0" opacity="0.5"/><ellipse cx="1113" cy="107" rx="4.6" ry="1.2" fill="#5e5e5e" opacity="0.45"/><ellipse cx="458" cy="113" rx="3.6" ry="1.0" fill="#5e5e5e" opacity="0.45"/><ellipse cx="485" cy="111" rx="3.5" ry="1.0" fill="#5e5e5e" opacity="0.45"/><circle cx="477" cy="113" r="1.0" fill="#a0a0a0" opacity="0.5"/><circle cx="358" cy="154" r="0.9" fill="#a0a0a0" opacity="0.5"/><circle cx="724" cy="156" r="0.9" fill="#a0a0a0" opacity="0.5"/><ellipse cx="1083" cy="114" rx="2.2" ry="1.4" fill="#5e5e5e" opacity="0.45"/><ellipse cx="551" cy="155" rx="3.4" ry="1.0" fill="#5e5e5e" opacity="0.45"/><circle cx="901" cy="161" r="0.9" fill="#a0a0a0" opacity="0.5"/><circle cx="538" cy="102" r="0.7" fill="#a0a0a0" opacity="0.5"/><ellipse cx="1103" cy="108" rx="4.7" ry="0.9" fill="#5e5e5e" opacity="0.45"/><circle cx="745" cy="81" r="0.8" fill="#a0a0a0" opacity="0.5"/><circle cx="1038" cy="87" r="0.6" fill="#a0a0a0" opacity="0.5"/><circle cx="233" cy="147" r="0.9" fill="#a0a0a0" opacity="0.5"/><circle cx="1022" cy="125" r="0.6" fill="#a0a0a0" opacity="0.5"/><circle cx="708" cy="86" r="0.8" fill="#a0a0a0" opacity="0.5"/><circle cx="682" cy="86" r="0.8" fill="#a0a0a0" opacity="0.5"/><ellipse cx="669" cy="71" rx="3.7" ry="1.4" fill="#5e5e5e" opacity="0.45"/><ellipse cx="741" cy="83" rx="3.0" ry="1.2" fill="#5e5e5e" opacity="0.45"/><circle cx="1102" cy="116" r="1.1" fill="#a0a0a0" opacity="0.5"/><ellipse cx="1025" cy="132" rx="3.5" ry="1.2" fill="#5e5e5e" opacity="0.45"/><circle cx="860" cy="138" r="1.1" fill="#a0a0a0" opacity="0.5"/><circle cx="288" cy="142" r="0.6" fill="#a0a0a0" opacity="0.5"/><circle cx="312" cy="152" r="0.6" fill="#a0a0a0" opacity="0.5"/><circle cx="236" cy="149" r="0.9" fill="#a0a0a0" opacity="0.5"/><circle cx="759" cy="161" r="0.6" fill="#a0a0a0" opacity="0.5"/><circle cx="270" cy="149" r="1.0" fill="#a0a0a0" opacity="0.5"/><ellipse cx="594" cy="106" rx="2.0" ry="1.3" fill="#5e5e5e" opacity="0.45"/><circle cx="455" cy="138" r="0.8" fill="#a0a0a0" opacity="0.5"/><ellipse cx="850" cy="122" rx="4.6" ry="0.9" fill="#5e5e5e" opacity="0.45"/><ellipse cx="348" cy="127" rx="4.4" ry="1.0" fill="#5e5e5e" opacity="0.45"/><ellipse cx="433" cy="144" rx="3.6" ry="1.0" fill="#5e5e5e" opacity="0.45"/><ellipse cx="1043" cy="93" rx="2.9" ry="1.0" fill="#5e5e5e" opacity="0.45"/><circle cx="899" cy="138" r="0.9" fill="#a0a0a0" opacity="0.5"/><ellipse cx="280" cy="148" rx="2.7" ry="1.0" fill="#5e5e5e" opacity="0.45"/><ellipse cx="1150" cy="104" rx="4.7" ry="1.4" fill="#5e5e5e" opacity="0.45"/><circle cx="575" cy="87" r="1.0" fill="#a0a0a0" opacity="0.5"/><ellipse cx="528" cy="154" rx="2.9" ry="1.2" fill="#5e5e5e" opacity="0.45"/><circle cx="913" cy="118" r="0.6" fill="#a0a0a0" opacity="0.5"/><ellipse cx="682" cy="109" rx="4.7" ry="0.9" fill="#5e5e5e" opacity="0.45"/><circle cx="401" cy="157" r="1.1" fill="#a0a0a0" opacity="0.5"/><ellipse cx="532" cy="167" rx="4.1" ry="1.4" fill="#5e5e5e" opacity="0.45"/><circle cx="389" cy="117" r="1.0" fill="#a0a0a0" opacity="0.5"/><ellipse cx="899" cy="163" rx="3.1" ry="0.9" fill="#5e5e5e" opacity="0.45"/><ellipse cx="466" cy="164" rx="2.6" ry="1.0" fill="#5e5e5e" opacity="0.45"/><ellipse cx="252" cy="141" rx="2.4" ry="1.1" fill="#5e5e5e" opacity="0.45"/><circle cx="721" cy="135" r="0.9" fill="#a0a0a0" opacity="0.5"/><ellipse cx="1110" cy="93" rx="2.2" ry="1.0" fill="#5e5e5e" opacity="0.45"/><circle cx="931" cy="153" r="0.7" fill="#a0a0a0" opacity="0.5"/><ellipse cx="521" cy="134" rx="4.4" ry="1.4" fill="#5e5e5e" opacity="0.45"/><circle cx="644" cy="134" r="0.8" fill="#a0a0a0" opacity="0.5"/><circle cx="387" cy="159" r="0.6" fill="#a0a0a0" opacity="0.5"/><ellipse cx="933" cy="111" rx="2.5" ry="0.9" fill="#5e5e5e" opacity="0.45"/><ellipse cx="908" cy="96" rx="2.7" ry="1.3" fill="#5e5e5e" opacity="0.45"/><ellipse cx="682" cy="143" rx="2.5" ry="0.8" fill="#5e5e5e" opacity="0.45"/><ellipse cx="496" cy="92" rx="3.9" ry="1.0" fill="#5e5e5e" opacity="0.45"/><ellipse cx="657" cy="137" rx="3.1" ry="1.3" fill="#5e5e5e" opacity="0.45"/><circle cx="760" cy="119" r="0.8" fill="#a0a0a0" opacity="0.5"/><ellipse cx="522" cy="165" rx="4.8" ry="1.3" fill="#5e5e5e" opacity="0.45"/><circle cx="1047" cy="92" r="1.1" fill="#a0a0a0" opacity="0.5"/><circle cx="481" cy="105" r="0.7" fill="#a0a0a0" opacity="0.5"/><circle cx="762" cy="87" r="0.7" fill="#a0a0a0" opacity="0.5"/><ellipse cx="298" cy="146" rx="3.7" ry="1.1" fill="#5e5e5e" opacity="0.45"/><ellipse cx="1086" cy="105" rx="2.0" ry="1.1" fill="#5e5e5e" opacity="0.45"/><circle cx="462" cy="137" r="0.8" fill="#a0a0a0" opacity="0.5"/><ellipse cx="291" cy="141" rx="3.9" ry="1.4" fill="#5e5e5e" opacity="0.45"/><ellipse cx="473" cy="127" rx="4.4" ry="0.9" fill="#5e5e5e" opacity="0.45"/><ellipse cx="997" cy="131" rx="4.7" ry="1.1" fill="#5e5e5e" opacity="0.45"/><circle cx="612" cy="129" r="0.8" fill="#a0a0a0" opacity="0.5"/><circle cx="666" cy="97" r="0.9" fill="#a0a0a0" opacity="0.5"/><ellipse cx="532" cy="100" rx="4.5" ry="1.3" fill="#5e5e5e" opacity="0.45"/><circle cx="1140" cy="107" r="1.0" fill="#a0a0a0" opacity="0.5"/><circle cx="885" cy="153" r="0.7" fill="#a0a0a0" opacity="0.5"/><ellipse cx="983" cy="102" rx="4.8" ry="0.8" fill="#5e5e5e" opacity="0.45"/><circle cx="694" cy="105" r="0.9" fill="#a0a0a0" opacity="0.5"/><circle cx="1075" cy="121" r="0.6" fill="#a0a0a0" opacity="0.5"/><circle cx="842" cy="86" r="1.0" fill="#a0a0a0" opacity="0.5"/><circle cx="502" cy="103" r="1.0" fill="#a0a0a0" opacity="0.5"/><ellipse cx="1146" cy="104" rx="4.2" ry="0.8" fill="#5e5e5e" opacity="0.45"/><circle cx="1034" cy="122" r="1.0" fill="#a0a0a0" opacity="0.5"/><circle cx="749" cy="184" r="0.8" fill="#a0a0a0" opacity="0.5"/><ellipse cx="572" cy="110" rx="2.5" ry="1.3" fill="#5e5e5e" opacity="0.45"/><circle cx="423" cy="144" r="0.9" fill="#a0a0a0" opacity="0.5"/><ellipse cx="698" cy="102" rx="2.6" ry="1.2" fill="#5e5e5e" opacity="0.45"/><ellipse cx="860" cy="171" rx="4.8" ry="1.3" fill="#5e5e5e" opacity="0.45"/><circle cx="482" cy="166" r="1.1" fill="#a0a0a0" opacity="0.5"/><ellipse cx="944" cy="105" rx="3.6" ry="1.1" fill="#5e5e5e" opacity="0.45"/><circle cx="239" cy="149" r="0.8" fill="#a0a0a0" opacity="0.5"/><ellipse cx="916" cy="99" rx="3.7" ry="0.9" fill="#5e5e5e" opacity="0.45"/><ellipse cx="518" cy="90" rx="3.1" ry="1.1" fill="#5e5e5e" opacity="0.45"/><ellipse cx="1111" cy="106" rx="3.2" ry="0.9" fill="#5e5e5e" opacity="0.45"/><ellipse cx="658" cy="179" rx="3.3" ry="1.2" fill="#5e5e5e" opacity="0.45"/><circle cx="933" cy="123" r="1.1" fill="#a0a0a0" opacity="0.5"/><circle cx="1067" cy="96" r="1.1" fill="#a0a0a0" opacity="0.5"/><circle cx="709" cy="87" r="0.6" fill="#a0a0a0" opacity="0.5"/><ellipse cx="349" cy="140" rx="4.2" ry="1.2" fill="#5e5e5e" opacity="0.45"/><circle cx="510" cy="152" r="1.0" fill="#a0a0a0" opacity="0.5"/><ellipse cx="641" cy="114" rx="3.4" ry="1.4" fill="#5e5e5e" opacity="0.45"/><ellipse cx="1053" cy="87" rx="2.8" ry="1.2" fill="#5e5e5e" opacity="0.45"/><ellipse cx="623" cy="79" rx="3.7" ry="1.2" fill="#5e5e5e" opacity="0.45"/><circle cx="590" cy="140" r="0.9" fill="#a0a0a0" opacity="0.5"/><ellipse cx="249" cy="147" rx="2.2" ry="1.1" fill="#5e5e5e" opacity="0.45"/><ellipse cx="221" cy="148" rx="3.4" ry="0.9" fill="#5e5e5e" opacity="0.45"/><ellipse cx="1116" cy="110" rx="3.8" ry="1.0" fill="#5e5e5e" opacity="0.45"/><ellipse cx="1144" cy="101" rx="2.7" ry="1.3" fill="#5e5e5e" opacity="0.45"/><ellipse cx="691" cy="113" rx="4.7" ry="1.0" fill="#5e5e5e" opacity="0.45"/><ellipse cx="961" cy="131" rx="3.1" ry="1.1" fill="#5e5e5e" opacity="0.45"/><circle cx="638" cy="100" r="0.8" fill="#a0a0a0" opacity="0.5"/><ellipse cx="495" cy="152" rx="3.4" ry="1.3" fill="#5e5e5e" opacity="0.45"/><circle cx="639" cy="107" r="1.1" fill="#a0a0a0" opacity="0.5"/><circle cx="955" cy="110" r="1.0" fill="#a0a0a0" opacity="0.5"/><circle cx="488" cy="148" r="0.9" fill="#a0a0a0" opacity="0.5"/><circle cx="844" cy="121" r="0.7" fill="#a0a0a0" opacity="0.5"/><circle cx="941" cy="121" r="0.8" fill="#a0a0a0" opacity="0.5"/><ellipse cx="885" cy="78" rx="4.3" ry="1.0" fill="#5e5e5e" opacity="0.45"/><ellipse cx="791" cy="97" rx="5.0" ry="0.9" fill="#5e5e5e" opacity="0.45"/><circle cx="1077" cy="88" r="1.0" fill="#a0a0a0" opacity="0.5"/><circle cx="1005" cy="106" r="1.0" fill="#a0a0a0" opacity="0.5"/><circle cx="932" cy="138" r="0.7" fill="#a0a0a0" opacity="0.5"/><circle cx="878" cy="130" r="1.1" fill="#a0a0a0" opacity="0.5"/><ellipse cx="335" cy="150" rx="4.2" ry="1.4" fill="#5e5e5e" opacity="0.45"/><circle cx="467" cy="136" r="0.8" fill="#a0a0a0" opacity="0.5"/><circle cx="365" cy="143" r="0.9" fill="#a0a0a0" opacity="0.5"/><ellipse cx="481" cy="155" rx="2.4" ry="1.2" fill="#5e5e5e" opacity="0.45"/><circle cx="645" cy="125" r="0.9" fill="#a0a0a0" opacity="0.5"/><circle cx="1116" cy="98" r="0.6" fill="#a0a0a0" opacity="0.5"/><circle cx="492" cy="146" r="1.0" fill="#a0a0a0" opacity="0.5"/><ellipse cx="568" cy="103" rx="3.6" ry="0.8" fill="#5e5e5e" opacity="0.45"/><ellipse cx="563" cy="142" rx="2.9" ry="1.3" fill="#5e5e5e" opacity="0.45"/><ellipse cx="1097" cy="98" rx="2.4" ry="0.9" fill="#5e5e5e" opacity="0.45"/><ellipse cx="963" cy="133" rx="3.5" ry="1.2" fill="#5e5e5e" opacity="0.45"/><circle cx="232" cy="149" r="0.7" fill="#a0a0a0" opacity="0.5"/><ellipse cx="877" cy="144" rx="4.6" ry="0.9" fill="#5e5e5e" opacity="0.45"/><ellipse cx="658" cy="100" rx="4.4" ry="1.1" fill="#5e5e5e" opacity="0.45"/><ellipse cx="787" cy="192" rx="2.7" ry="1.2" fill="#5e5e5e" opacity="0.45"/><ellipse cx="348" cy="158" rx="3.3" ry="1.1" fill="#5e5e5e" opacity="0.45"/><circle cx="995" cy="138" r="0.7" fill="#a0a0a0" opacity="0.5"/><ellipse cx="544" cy="147" rx="4.6" ry="1.3" fill="#5e5e5e" opacity="0.45"/><ellipse cx="421" cy="127" rx="4.2" ry="0.8" fill="#5e5e5e" opacity="0.45"/><circle cx="869" cy="82" r="0.9" fill="#a0a0a0" opacity="0.5"/><ellipse cx="762" cy="80" rx="3.1" ry="1.4" fill="#5e5e5e" opacity="0.45"/><ellipse cx="778" cy="176" rx="2.3" ry="0.8" fill="#5e5e5e" opacity="0.45"/><ellipse cx="871" cy="93" rx="4.0" ry="1.2" fill="#5e5e5e" opacity="0.45"/><ellipse cx="513" cy="126" rx="3.7" ry="1.0" fill="#5e5e5e" opacity="0.45"/><ellipse cx="549" cy="102" rx="2.8" ry="0.8" fill="#5e5e5e" opacity="0.45"/><ellipse cx="501" cy="137" rx="2.3" ry="1.3" fill="#5e5e5e" opacity="0.45"/><ellipse cx="653" cy="124" rx="4.7" ry="1.3" fill="#5e5e5e" opacity="0.45"/><circle cx="800" cy="150" r="0.9" fill="#a0a0a0" opacity="0.5"/><circle cx="600" cy="111" r="0.8" fill="#a0a0a0" opacity="0.5"/><circle cx="710" cy="130" r="1.0" fill="#a0a0a0" opacity="0.5"/><ellipse cx="419" cy="107" rx="2.1" ry="1.3" fill="#5e5e5e" opacity="0.45"/><ellipse cx="797" cy="105" rx="4.6" ry="1.3" fill="#5e5e5e" opacity="0.45"/><circle cx="858" cy="146" r="0.8" fill="#a0a0a0" opacity="0.5"/><circle cx="585" cy="130" r="1.1" fill="#a0a0a0" opacity="0.5"/><ellipse cx="1081" cy="116" rx="2.7" ry="1.4" fill="#5e5e5e" opacity="0.45"/></g>
<polygon points="197.7,172.0 199.5,165.0 203.8,159.0 206.7,156.2 209.7,153.5 212.6,150.8 215.5,147.7 219.8,145.6 224.2,143.0 228.5,140.7 232.8,139.0 237.2,137.7 241.5,136.8 245.6,136.4 249.6,134.7 253.7,132.6 257.8,130.7 261.8,129.2 265.9,128.1 269.9,127.4 274.0,127.0 278.3,126.9 282.7,125.2 287.0,123.7 291.3,122.6 295.7,122.0 300.0,121.7 304.3,121.8 308.7,122.1 313.0,120.6 317.4,118.8 321.7,117.3 326.1,116.3 330.5,115.7 334.9,115.5 339.2,115.6 343.6,114.1 347.9,112.6 352.1,111.5 356.4,110.7 360.7,110.3 364.9,110.3 369.2,110.6 373.5,110.3 377.7,108.7 382.0,107.4 386.0,106.4 390.0,105.8 394.0,105.6 398.0,105.7 402.0,106.0 406.0,105.2 410.0,103.7 414.0,102.4 418.0,101.5 421.9,100.5 425.8,99.9 429.7,99.5 433.6,99.3 437.4,97.9 441.3,96.0 445.2,94.3 449.1,93.0 453.0,92.0 457.3,91.7 461.7,91.8 466.0,92.0 470.3,90.2 474.7,88.6 479.0,87.4 483.3,86.6 487.7,86.2 492.0,86.2 496.5,86.3 501.0,84.8 505.5,83.0 510.0,81.5 514.5,80.5 519.0,80.0 523.2,79.9 527.5,80.1 531.8,78.9 536.0,77.2 540.2,75.8 544.5,74.8 548.8,74.2 553.0,73.9 557.2,74.0 561.5,73.2 565.8,73.0 570.0,71.7 574.3,70.2 578.7,69.0 583.0,68.3 587.3,67.9 591.7,67.6 596.0,66.0 600.2,64.8 604.4,64.0 608.6,63.5 612.9,63.3 617.1,63.3 621.3,62.0 625.5,60.8 629.7,60.0 634.0,59.5 638.2,59.3 642.4,59.3 646.6,58.1 650.7,57.7 654.7,57.6 658.8,57.9 662.9,58.4 666.9,59.2 671.0,59.3 675.0,58.8 679.1,58.6 683.2,58.7 687.2,59.2 691.3,59.8 695.4,60.5 699.4,60.0 703.5,59.7 707.5,59.6 711.6,59.9 715.6,60.8 719.6,61.8 723.6,61.9 727.6,61.8 731.7,61.9 735.7,62.3 739.7,63.0 743.7,64.0 747.7,64.7 751.8,64.3 756.0,64.1 760.1,64.3 764.2,64.7 768.3,65.5 772.5,66.4 776.6,66.0 780.7,65.8 784.9,65.8 789.0,66.2 793.1,66.9 797.2,67.8 801.4,67.8 805.5,67.4 809.6,67.5 813.7,67.9 817.8,68.7 821.9,69.7 826.0,70.2 830.1,70.0 834.2,69.9 838.4,70.3 842.5,70.9 846.6,71.8 850.7,72.8 854.8,72.5 858.9,72.4 863.0,72.6 867.1,72.9 871.3,73.5 875.4,74.2 879.6,73.9 883.7,73.5 887.9,73.3 892.0,73.5 896.1,74.0 900.3,74.8 904.4,74.8 908.6,74.4 912.7,74.1 916.9,74.2 921.0,74.6 925.1,75.5 929.1,76.2 933.2,75.9 937.2,75.8 941.3,76.0 945.4,76.5 949.4,77.3 953.5,78.3 957.6,78.1 961.6,77.9 965.7,78.0 969.8,78.4 973.8,79.1 977.9,80.0 981.9,80.3 986.0,80.1 990.2,79.8 994.3,79.8 998.5,80.1 1002.6,80.8 1006.8,81.2 1010.9,80.7 1015.1,80.3 1019.2,80.2 1023.4,80.5 1027.5,81.1 1031.7,81.8 1035.8,81.3 1040.0,80.8 1044.0,80.9 1048.0,81.2 1052.0,81.8 1056.0,82.7 1060.0,82.9 1064.0,82.6 1068.0,82.4 1072.0,82.6 1076.0,83.1 1080.0,83.9 1084.6,85.6 1089.2,86.2 1093.8,87.1 1098.4,88.4 1103.0,90.1 1107.7,89.6 1112.3,88.1 1117.0,86.3 1121.3,87.6 1125.7,89.3 1130.0,91.4 1133.8,93.7 1137.5,94.8 1141.2,96.0 1145.0,97.6 1150.0,100.4 1155.0,104.0 1166.0,111.0 1166.0,118.0 801.0,225.0 197.7,176.0" fill="url(#tri)" opacity="0.18"/>
<polygon points="206.0,156.0 220.0,146.0 790.0,176.0 1120.0,95.0 1166.0,111.0 790.0,202.0" fill="url(#tri)" opacity="0.8"/>
<polygon points="199.0,166.0 204.0,158.0 790.0,202.0 801.0,221.0 198.0,173.0" fill="url(#mesh)" />
<polygon points="790.0,202.0 1166.0,109.0 1166.0,117.0 801.0,223.0" fill="url(#meshR)" />
<g><circle cx="302.0" cy="167.6" r="3.3" fill="url(#glow)" opacity="0.85"/><circle cx="317.0" cy="168.8" r="3.3" fill="url(#glow)" opacity="0.85"/><circle cx="332.0" cy="170.0" r="3.3" fill="url(#glow)" opacity="0.85"/><circle cx="362.0" cy="172.3" r="3.3" fill="url(#glow)" opacity="0.85"/><circle cx="392.0" cy="174.7" r="3.3" fill="url(#glow)" opacity="0.85"/><circle cx="422.0" cy="177.1" r="3.3" fill="url(#glow)" opacity="0.85"/><circle cx="542.0" cy="186.5" r="3.3" fill="url(#glow)" opacity="0.85"/><circle cx="557.0" cy="187.7" r="3.3" fill="url(#glow)" opacity="0.85"/><circle cx="572.0" cy="188.9" r="3.3" fill="url(#glow)" opacity="0.85"/><circle cx="587.0" cy="190.0" r="3.3" fill="url(#glow)" opacity="0.85"/><circle cx="602.0" cy="191.2" r="3.3" fill="url(#glow)" opacity="0.85"/><circle cx="632.0" cy="193.6" r="3.3" fill="url(#glow)" opacity="0.85"/><circle cx="647.0" cy="194.8" r="3.3" fill="url(#glow)" opacity="0.85"/><circle cx="662.0" cy="195.9" r="3.3" fill="url(#glow)" opacity="0.85"/><circle cx="677.0" cy="197.1" r="3.3" fill="url(#glow)" opacity="0.85"/><circle cx="692.0" cy="198.3" r="3.3" fill="url(#glow)" opacity="0.85"/><circle cx="707.0" cy="199.5" r="3.3" fill="url(#glow)" opacity="0.85"/><circle cx="737.0" cy="201.8" r="3.3" fill="url(#glow)" opacity="0.85"/><circle cx="752.0" cy="203.0" r="3.3" fill="url(#glow)" opacity="0.85"/><circle cx="767.0" cy="204.2" r="3.3" fill="url(#glow)" opacity="0.85"/><circle cx="294.0" cy="155.0" r="2.6" fill="url(#glow)" opacity="0.6"/><circle cx="309.0" cy="156.2" r="2.6" fill="url(#glow)" opacity="0.6"/><circle cx="324.0" cy="157.4" r="2.6" fill="url(#glow)" opacity="0.6"/><circle cx="339.0" cy="158.5" r="2.6" fill="url(#glow)" opacity="0.6"/><circle cx="354.0" cy="159.7" r="2.6" fill="url(#glow)" opacity="0.6"/><circle cx="369.0" cy="160.9" r="2.6" fill="url(#glow)" opacity="0.6"/><circle cx="384.0" cy="162.1" r="2.6" fill="url(#glow)" opacity="0.6"/><circle cx="399.0" cy="163.3" r="2.6" fill="url(#glow)" opacity="0.6"/><circle cx="414.0" cy="164.4" r="2.6" fill="url(#glow)" opacity="0.6"/><circle cx="429.0" cy="165.6" r="2.6" fill="url(#glow)" opacity="0.6"/><circle cx="549.0" cy="175.0" r="2.6" fill="url(#glow)" opacity="0.6"/><circle cx="579.0" cy="177.4" r="2.6" fill="url(#glow)" opacity="0.6"/><circle cx="594.0" cy="178.6" r="2.6" fill="url(#glow)" opacity="0.6"/><circle cx="609.0" cy="179.8" r="2.6" fill="url(#glow)" opacity="0.6"/><circle cx="624.0" cy="180.9" r="2.6" fill="url(#glow)" opacity="0.6"/><circle cx="639.0" cy="182.1" r="2.6" fill="url(#glow)" opacity="0.6"/><circle cx="654.0" cy="183.3" r="2.6" fill="url(#glow)" opacity="0.6"/><circle cx="669.0" cy="184.5" r="2.6" fill="url(#glow)" opacity="0.6"/><circle cx="684.0" cy="185.7" r="2.6" fill="url(#glow)" opacity="0.6"/><circle cx="699.0" cy="186.8" r="2.6" fill="url(#glow)" opacity="0.6"/><circle cx="714.0" cy="188.0" r="2.6" fill="url(#glow)" opacity="0.6"/><circle cx="729.0" cy="189.2" r="2.6" fill="url(#glow)" opacity="0.6"/><circle cx="744.0" cy="190.4" r="2.6" fill="url(#glow)" opacity="0.6"/><circle cx="759.0" cy="191.6" r="2.6" fill="url(#glow)" opacity="0.6"/><circle cx="301.0" cy="143.5" r="2.2" fill="url(#glow)" opacity="0.45"/><circle cx="316.0" cy="144.7" r="2.2" fill="url(#glow)" opacity="0.45"/><circle cx="346.0" cy="147.1" r="2.2" fill="url(#glow)" opacity="0.45"/><circle cx="361.0" cy="148.3" r="2.2" fill="url(#glow)" opacity="0.45"/><circle cx="376.0" cy="149.4" r="2.2" fill="url(#glow)" opacity="0.45"/><circle cx="391.0" cy="150.6" r="2.2" fill="url(#glow)" opacity="0.45"/><circle cx="406.0" cy="151.8" r="2.2" fill="url(#glow)" opacity="0.45"/><circle cx="421.0" cy="153.0" r="2.2" fill="url(#glow)" opacity="0.45"/><circle cx="556.0" cy="163.6" r="2.2" fill="url(#glow)" opacity="0.45"/><circle cx="571.0" cy="164.8" r="2.2" fill="url(#glow)" opacity="0.45"/><circle cx="586.0" cy="166.0" r="2.2" fill="url(#glow)" opacity="0.45"/><circle cx="601.0" cy="167.1" r="2.2" fill="url(#glow)" opacity="0.45"/><circle cx="616.0" cy="168.3" r="2.2" fill="url(#glow)" opacity="0.45"/><circle cx="631.0" cy="169.5" r="2.2" fill="url(#glow)" opacity="0.45"/><circle cx="646.0" cy="170.7" r="2.2" fill="url(#glow)" opacity="0.45"/><circle cx="661.0" cy="171.9" r="2.2" fill="url(#glow)" opacity="0.45"/><circle cx="691.0" cy="174.2" r="2.2" fill="url(#glow)" opacity="0.45"/><circle cx="706.0" cy="175.4" r="2.2" fill="url(#glow)" opacity="0.45"/><circle cx="736.0" cy="177.8" r="2.2" fill="url(#glow)" opacity="0.45"/><circle cx="751.0" cy="178.9" r="2.2" fill="url(#glow)" opacity="0.45"/><circle cx="766.0" cy="180.1" r="2.2" fill="url(#glow)" opacity="0.45"/><circle cx="795.0" cy="204.8" r="2.6" fill="url(#glow)" opacity="0.7"/><circle cx="804.0" cy="202.5" r="2.6" fill="url(#glow)" opacity="0.7"/><circle cx="885.0" cy="182.5" r="2.6" fill="url(#glow)" opacity="0.7"/><circle cx="921.0" cy="173.6" r="2.6" fill="url(#glow)" opacity="0.7"/><circle cx="930.0" cy="171.4" r="2.6" fill="url(#glow)" opacity="0.7"/><circle cx="957.0" cy="164.7" r="2.6" fill="url(#glow)" opacity="0.7"/><circle cx="966.0" cy="162.5" r="2.6" fill="url(#glow)" opacity="0.7"/><circle cx="993.0" cy="155.8" r="2.6" fill="url(#glow)" opacity="0.7"/><circle cx="1038.0" cy="144.7" r="2.6" fill="url(#glow)" opacity="0.7"/><circle cx="1047.0" cy="142.4" r="2.6" fill="url(#glow)" opacity="0.7"/><circle cx="1065.0" cy="138.0" r="2.6" fill="url(#glow)" opacity="0.7"/><circle cx="1083.0" cy="133.5" r="2.6" fill="url(#glow)" opacity="0.7"/><circle cx="1092.0" cy="131.3" r="2.6" fill="url(#glow)" opacity="0.7"/><circle cx="1155.0" cy="115.7" r="2.6" fill="url(#glow)" opacity="0.7"/><circle cx="804.0" cy="190.5" r="2.2" fill="url(#glow)" opacity="0.5"/><circle cx="813.0" cy="188.3" r="2.2" fill="url(#glow)" opacity="0.5"/><circle cx="822.0" cy="186.1" r="2.2" fill="url(#glow)" opacity="0.5"/><circle cx="831.0" cy="183.9" r="2.2" fill="url(#glow)" opacity="0.5"/><circle cx="858.0" cy="177.2" r="2.2" fill="url(#glow)" opacity="0.5"/><circle cx="867.0" cy="175.0" r="2.2" fill="url(#glow)" opacity="0.5"/><circle cx="903.0" cy="166.1" r="2.2" fill="url(#glow)" opacity="0.5"/><circle cx="912.0" cy="163.8" r="2.2" fill="url(#glow)" opacity="0.5"/><circle cx="921.0" cy="161.6" r="2.2" fill="url(#glow)" opacity="0.5"/><circle cx="930.0" cy="159.4" r="2.2" fill="url(#glow)" opacity="0.5"/><circle cx="939.0" cy="157.1" r="2.2" fill="url(#glow)" opacity="0.5"/><circle cx="948.0" cy="154.9" r="2.2" fill="url(#glow)" opacity="0.5"/><circle cx="966.0" cy="150.5" r="2.2" fill="url(#glow)" opacity="0.5"/><circle cx="975.0" cy="148.2" r="2.2" fill="url(#glow)" opacity="0.5"/><circle cx="1002.0" cy="141.6" r="2.2" fill="url(#glow)" opacity="0.5"/><circle cx="1047.0" cy="130.4" r="2.2" fill="url(#glow)" opacity="0.5"/><circle cx="1065.0" cy="126.0" r="2.2" fill="url(#glow)" opacity="0.5"/><circle cx="1074.0" cy="123.8" r="2.2" fill="url(#glow)" opacity="0.5"/><circle cx="1083.0" cy="121.5" r="2.2" fill="url(#glow)" opacity="0.5"/><circle cx="1137.0" cy="108.2" r="2.2" fill="url(#glow)" opacity="0.5"/></g>
</g>
<polyline points="198.0,173.0 560.0,203.5 801.0,222.0 1166.0,115.0" fill="none" stroke="#444" stroke-width="6" stroke-linejoin="round" stroke-linecap="round" />
<polyline points="198.0,176.0 560.0,206.5 801.0,225.0 1166.0,118.0" fill="none" stroke="#262626" stroke-width="1.6" stroke-linejoin="round" stroke-linecap="round" />
<polyline points="198.0,171.0 560.0,202.0 790.0,219.0 1160.0,113.0" fill="none" stroke="#5a5a5a" stroke-width="1" stroke-linejoin="round" stroke-linecap="round" />
</svg>

<div class="lab" style="left:757px;top:110px;width:463px;height:80px;"></div>
<div class="t b" style="left:873px;top:120px;letter-spacing:0.84px">Quilted Pillow Top</div>
<div class="t s" style="left:774px;top:150px;letter-spacing:0.5px">Pressure relief and advanced cooling</div>
<div class="lab" style="left:182px;top:352px;width:513px;height:81px;"></div>
<div class="t b" style="left:199px;top:362.6px;letter-spacing:0.25px">Premium Foams, Supportive Microcoils</div>
<div class="t s" style="left:318.7px;top:393px;letter-spacing:0.6px">Firm, contouring feel</div>
<div class="lab" style="left:550px;top:606px;width:507px;height:79.5px;"></div>
<div class="t b" style="left:567px;top:616.7px;letter-spacing:0.51px">Full Perimeter, Zoned Lumbar Support</div>
<div class="t s" style="left:634.7px;top:646.7px;letter-spacing:0.83px">Durable support and comfort</div>

</body></html>
